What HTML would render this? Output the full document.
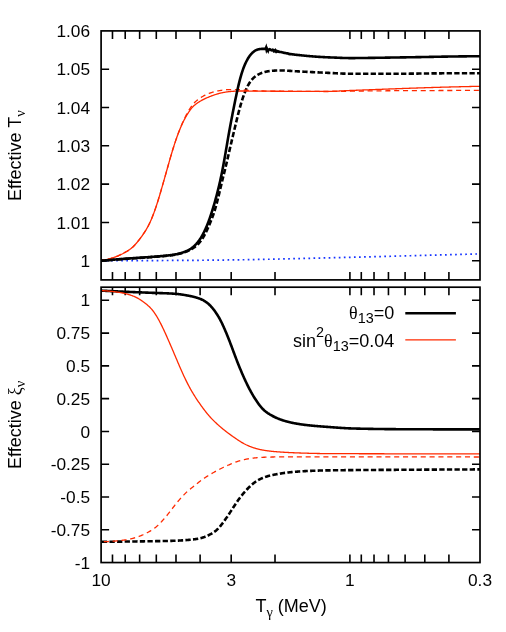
<!DOCTYPE html>
<html><head><meta charset="utf-8"><title>plot</title>
<style>
html,body{margin:0;padding:0;background:#fff;}
body{width:506px;height:632px;overflow:hidden;font-family:"Liberation Sans",sans-serif;}
svg{display:block;}
</style></head><body>
<svg width="506" height="632" viewBox="0 0 506 632">
<rect width="506" height="632" fill="#fff"/>
<defs><clipPath id="ct"><rect x="101.1" y="30.9" width="378.9" height="248.99999999999997"/></clipPath><clipPath id="cb"><rect x="101.1" y="287.2" width="378.9" height="275.34999999999997"/></clipPath></defs>
<path d="M112.48,30.9 v8.0 M112.48,279.9 v-8.0 M112.48,287.2 v8.0 M112.48,562.55 v-8.0 M125.21,30.9 v8.0 M125.21,279.9 v-8.0 M125.21,287.2 v8.0 M125.21,562.55 v-8.0 M139.64,30.9 v8.0 M139.64,279.9 v-8.0 M139.64,287.2 v8.0 M139.64,562.55 v-8.0 M156.30,30.9 v8.0 M156.30,279.9 v-8.0 M156.30,287.2 v8.0 M156.30,562.55 v-8.0 M176.00,30.9 v8.0 M176.00,279.9 v-8.0 M176.00,287.2 v8.0 M176.00,562.55 v-8.0 M200.11,30.9 v8.0 M200.11,279.9 v-8.0 M200.11,287.2 v8.0 M200.11,562.55 v-8.0 M231.19,30.9 v8.0 M231.19,279.9 v-8.0 M231.19,287.2 v8.0 M231.19,562.55 v-8.0 M275.01,30.9 v8.0 M275.01,279.9 v-8.0 M275.01,287.2 v8.0 M275.01,562.55 v-8.0 M349.91,30.9 v8.0 M349.91,279.9 v-8.0 M349.91,287.2 v8.0 M349.91,562.55 v-8.0 M361.29,30.9 v8.0 M361.29,279.9 v-8.0 M361.29,287.2 v8.0 M361.29,562.55 v-8.0 M374.02,30.9 v8.0 M374.02,279.9 v-8.0 M374.02,287.2 v8.0 M374.02,562.55 v-8.0 M388.45,30.9 v8.0 M388.45,279.9 v-8.0 M388.45,287.2 v8.0 M388.45,562.55 v-8.0 M405.10,30.9 v8.0 M405.10,279.9 v-8.0 M405.10,287.2 v8.0 M405.10,562.55 v-8.0 M424.80,30.9 v8.0 M424.80,279.9 v-8.0 M424.80,287.2 v8.0 M424.80,562.55 v-8.0 M448.91,30.9 v8.0 M448.91,279.9 v-8.0 M448.91,287.2 v8.0 M448.91,562.55 v-8.0 M101.1,260.75 h8.0 M480.0,260.75 h-8.0 M101.1,222.44 h8.0 M480.0,222.44 h-8.0 M101.1,184.13 h8.0 M480.0,184.13 h-8.0 M101.1,145.82 h8.0 M480.0,145.82 h-8.0 M101.1,107.52 h8.0 M480.0,107.52 h-8.0 M101.1,69.21 h8.0 M480.0,69.21 h-8.0 M101.1,529.77 h8.0 M480.0,529.77 h-8.0 M101.1,496.99 h8.0 M480.0,496.99 h-8.0 M101.1,464.21 h8.0 M480.0,464.21 h-8.0 M101.1,431.43 h8.0 M480.0,431.43 h-8.0 M101.1,398.65 h8.0 M480.0,398.65 h-8.0 M101.1,365.87 h8.0 M480.0,365.87 h-8.0 M101.1,333.09 h8.0 M480.0,333.09 h-8.0 M101.1,300.31 h8.0 M480.0,300.31 h-8.0" fill="none" stroke="#000" stroke-width="1.6"/>
<g fill="none" stroke-linejoin="round" clip-path="url(#ct)">
<path d="M101.10,260.75 L101.60,260.75 L102.10,260.75 L102.60,260.75 L103.10,260.75 L103.60,260.75 L104.10,260.75 L104.60,260.75 L105.10,260.75 L105.60,260.74 L106.10,260.74 L106.60,260.74 L107.10,260.74 L107.60,260.74 L108.10,260.74 L108.60,260.74 L109.10,260.74 L109.60,260.74 L110.10,260.74 L110.60,260.74 L111.10,260.73 L111.60,260.73 L112.10,260.73 L112.60,260.73 L113.10,260.73 L113.60,260.73 L114.10,260.73 L114.60,260.73 L115.10,260.73 L115.60,260.72 L116.10,260.72 L116.60,260.72 L117.10,260.72 L117.60,260.72 L118.10,260.72 L118.60,260.72 L119.10,260.71 L119.60,260.71 L120.10,260.71 L120.60,260.71 L121.10,260.71 L121.60,260.71 L122.10,260.71 L122.60,260.70 L123.10,260.70 L123.60,260.70 L124.10,260.70 L124.60,260.70 L125.10,260.70 L125.60,260.69 L126.10,260.69 L126.60,260.69 L127.10,260.69 L127.60,260.69 L128.10,260.69 L128.60,260.68 L129.10,260.68 L129.60,260.68 L130.10,260.68 L130.60,260.68 L131.10,260.67 L131.60,260.67 L132.10,260.67 L132.60,260.67 L133.10,260.67 L133.60,260.66 L134.10,260.66 L134.60,260.66 L135.10,260.66 L135.60,260.66 L136.10,260.65 L136.60,260.65 L137.10,260.65 L137.60,260.65 L138.10,260.65 L138.60,260.64 L139.10,260.64 L139.60,260.64 L140.10,260.64 L140.60,260.63 L141.10,260.63 L141.60,260.63 L142.10,260.63 L142.60,260.63 L143.10,260.62 L143.60,260.62 L144.10,260.62 L144.60,260.62 L145.10,260.61 L145.60,260.61 L146.10,260.61 L146.60,260.61 L147.10,260.60 L147.60,260.60 L148.10,260.60 L148.60,260.60 L149.10,260.59 L149.60,260.59 L150.10,260.59 L150.60,260.59 L151.10,260.58 L151.60,260.58 L152.10,260.58 L152.60,260.58 L153.10,260.57 L153.60,260.57 L154.10,260.57 L154.60,260.57 L155.10,260.56 L155.60,260.56 L156.10,260.56 L156.60,260.56 L157.10,260.55 L157.60,260.55 L158.10,260.55 L158.60,260.55 L159.10,260.54 L159.60,260.54 L160.10,260.54 L160.60,260.54 L161.10,260.53 L161.60,260.53 L162.10,260.53 L162.60,260.52 L163.10,260.52 L163.60,260.52 L164.10,260.52 L164.60,260.51 L165.10,260.51 L165.60,260.51 L166.10,260.51 L166.60,260.50 L167.10,260.50 L167.60,260.50 L168.10,260.49 L168.60,260.49 L169.10,260.49 L169.60,260.49 L170.10,260.48 L170.60,260.48 L171.10,260.48 L171.60,260.47 L172.10,260.47 L172.60,260.47 L173.10,260.47 L173.60,260.46 L174.10,260.46 L174.60,260.46 L175.10,260.46 L175.60,260.45 L176.10,260.45 L176.60,260.45 L177.10,260.44 L177.60,260.44 L178.10,260.44 L178.60,260.43 L179.10,260.43 L179.60,260.43 L180.10,260.43 L180.60,260.42 L181.10,260.42 L181.60,260.42 L182.10,260.41 L182.60,260.41 L183.10,260.41 L183.60,260.40 L184.10,260.40 L184.60,260.40 L185.10,260.39 L185.60,260.39 L186.10,260.39 L186.60,260.38 L187.10,260.38 L187.60,260.37 L188.10,260.37 L188.60,260.37 L189.10,260.36 L189.60,260.36 L190.10,260.36 L190.60,260.35 L191.10,260.35 L191.60,260.34 L192.10,260.34 L192.60,260.34 L193.10,260.33 L193.60,260.33 L194.10,260.32 L194.60,260.32 L195.10,260.32 L195.60,260.31 L196.10,260.31 L196.60,260.30 L197.10,260.30 L197.60,260.29 L198.10,260.29 L198.60,260.29 L199.10,260.28 L199.60,260.28 L200.10,260.27 L200.60,260.27 L201.10,260.26 L201.60,260.26 L202.10,260.25 L202.60,260.25 L203.10,260.25 L203.60,260.24 L204.10,260.24 L204.60,260.23 L205.10,260.23 L205.60,260.22 L206.10,260.22 L206.60,260.21 L207.10,260.21 L207.60,260.20 L208.10,260.20 L208.60,260.19 L209.10,260.19 L209.60,260.18 L210.10,260.18 L210.60,260.17 L211.10,260.17 L211.60,260.16 L212.10,260.16 L212.60,260.15 L213.10,260.15 L213.60,260.14 L214.10,260.14 L214.60,260.13 L215.10,260.12 L215.60,260.12 L216.10,260.11 L216.60,260.11 L217.10,260.10 L217.60,260.10 L218.10,260.09 L218.60,260.09 L219.10,260.08 L219.60,260.07 L220.10,260.07 L220.60,260.06 L221.10,260.06 L221.60,260.05 L222.10,260.05 L222.60,260.04 L223.10,260.03 L223.60,260.03 L224.10,260.02 L224.60,260.02 L225.10,260.01 L225.60,260.00 L226.10,260.00 L226.60,259.99 L227.10,259.99 L227.60,259.98 L228.10,259.97 L228.60,259.97 L229.10,259.96 L229.60,259.95 L230.10,259.95 L230.60,259.94 L231.10,259.93 L231.60,259.93 L232.10,259.92 L232.60,259.91 L233.10,259.91 L233.60,259.90 L234.10,259.89 L234.60,259.89 L235.10,259.88 L235.60,259.87 L236.10,259.86 L236.60,259.86 L237.10,259.85 L237.60,259.84 L238.10,259.83 L238.60,259.82 L239.10,259.82 L239.60,259.81 L240.10,259.80 L240.60,259.79 L241.10,259.78 L241.60,259.78 L242.10,259.77 L242.60,259.76 L243.10,259.75 L243.60,259.74 L244.10,259.73 L244.60,259.73 L245.10,259.72 L245.60,259.71 L246.10,259.70 L246.60,259.69 L247.10,259.68 L247.60,259.67 L248.10,259.66 L248.60,259.66 L249.10,259.65 L249.60,259.64 L250.10,259.63 L250.60,259.62 L251.10,259.61 L251.60,259.60 L252.10,259.59 L252.60,259.58 L253.10,259.57 L253.60,259.56 L254.10,259.55 L254.60,259.54 L255.10,259.53 L255.60,259.52 L256.10,259.51 L256.60,259.50 L257.10,259.49 L257.60,259.48 L258.10,259.47 L258.60,259.46 L259.10,259.45 L259.60,259.44 L260.10,259.43 L260.60,259.42 L261.10,259.41 L261.60,259.40 L262.10,259.39 L262.60,259.38 L263.10,259.37 L263.60,259.36 L264.10,259.35 L264.60,259.34 L265.10,259.33 L265.60,259.32 L266.10,259.31 L266.60,259.30 L267.10,259.29 L267.60,259.28 L268.10,259.27 L268.60,259.26 L269.10,259.24 L269.60,259.23 L270.10,259.22 L270.60,259.21 L271.10,259.20 L271.60,259.19 L272.10,259.18 L272.60,259.17 L273.10,259.16 L273.60,259.15 L274.10,259.13 L274.60,259.12 L275.10,259.11 L275.60,259.10 L276.10,259.09 L276.60,259.08 L277.10,259.07 L277.60,259.05 L278.10,259.04 L278.60,259.03 L279.10,259.02 L279.60,259.01 L280.10,259.00 L280.60,258.99 L281.10,258.97 L281.60,258.96 L282.10,258.95 L282.60,258.94 L283.10,258.93 L283.60,258.92 L284.10,258.90 L284.60,258.89 L285.10,258.88 L285.60,258.87 L286.10,258.86 L286.60,258.85 L287.10,258.83 L287.60,258.82 L288.10,258.81 L288.60,258.80 L289.10,258.79 L289.60,258.77 L290.10,258.76 L290.60,258.75 L291.10,258.74 L291.60,258.73 L292.10,258.71 L292.60,258.70 L293.10,258.69 L293.60,258.68 L294.10,258.67 L294.60,258.65 L295.10,258.64 L295.60,258.63 L296.10,258.62 L296.60,258.61 L297.10,258.59 L297.60,258.58 L298.10,258.57 L298.60,258.56 L299.10,258.54 L299.60,258.53 L300.10,258.52 L300.60,258.51 L301.10,258.50 L301.60,258.48 L302.10,258.47 L302.60,258.46 L303.10,258.45 L303.60,258.44 L304.10,258.42 L304.60,258.41 L305.10,258.40 L305.60,258.39 L306.10,258.37 L306.60,258.36 L307.10,258.35 L307.60,258.34 L308.10,258.33 L308.60,258.31 L309.10,258.30 L309.60,258.29 L310.10,258.28 L310.60,258.26 L311.10,258.25 L311.60,258.24 L312.10,258.23 L312.60,258.22 L313.10,258.20 L313.60,258.19 L314.10,258.18 L314.60,258.17 L315.10,258.15 L315.60,258.14 L316.10,258.13 L316.60,258.12 L317.10,258.11 L317.60,258.09 L318.10,258.08 L318.60,258.07 L319.10,258.06 L319.60,258.05 L320.10,258.03 L320.60,258.02 L321.10,258.01 L321.60,258.00 L322.10,257.99 L322.60,257.97 L323.10,257.96 L323.60,257.95 L324.10,257.94 L324.60,257.93 L325.10,257.92 L325.60,257.90 L326.10,257.89 L326.60,257.88 L327.10,257.87 L327.60,257.86 L328.10,257.84 L328.60,257.83 L329.10,257.82 L329.60,257.81 L330.10,257.80 L330.60,257.79 L331.10,257.77 L331.60,257.76 L332.10,257.75 L332.60,257.74 L333.10,257.73 L333.60,257.72 L334.10,257.70 L334.60,257.69 L335.10,257.68 L335.60,257.67 L336.10,257.66 L336.60,257.64 L337.10,257.63 L337.60,257.62 L338.10,257.61 L338.60,257.60 L339.10,257.58 L339.60,257.57 L340.10,257.56 L340.60,257.55 L341.10,257.54 L341.60,257.52 L342.10,257.51 L342.60,257.50 L343.10,257.49 L343.60,257.48 L344.10,257.46 L344.60,257.45 L345.10,257.44 L345.60,257.43 L346.10,257.41 L346.60,257.40 L347.10,257.39 L347.60,257.38 L348.10,257.36 L348.60,257.35 L349.10,257.34 L349.60,257.33 L350.10,257.32 L350.60,257.30 L351.10,257.29 L351.60,257.28 L352.10,257.27 L352.60,257.25 L353.10,257.24 L353.60,257.23 L354.10,257.22 L354.60,257.20 L355.10,257.19 L355.60,257.18 L356.10,257.16 L356.60,257.15 L357.10,257.14 L357.60,257.13 L358.10,257.11 L358.60,257.10 L359.10,257.09 L359.60,257.08 L360.10,257.06 L360.60,257.05 L361.10,257.04 L361.60,257.02 L362.10,257.01 L362.60,257.00 L363.10,256.99 L363.60,256.97 L364.10,256.96 L364.60,256.95 L365.10,256.94 L365.60,256.92 L366.10,256.91 L366.60,256.90 L367.10,256.88 L367.60,256.87 L368.10,256.86 L368.60,256.84 L369.10,256.83 L369.60,256.82 L370.10,256.81 L370.60,256.79 L371.10,256.78 L371.60,256.77 L372.10,256.75 L372.60,256.74 L373.10,256.73 L373.60,256.71 L374.10,256.70 L374.60,256.69 L375.10,256.68 L375.60,256.66 L376.10,256.65 L376.60,256.64 L377.10,256.62 L377.60,256.61 L378.10,256.60 L378.60,256.58 L379.10,256.57 L379.60,256.56 L380.10,256.54 L380.60,256.53 L381.10,256.52 L381.60,256.50 L382.10,256.49 L382.60,256.48 L383.10,256.46 L383.60,256.45 L384.10,256.44 L384.60,256.42 L385.10,256.41 L385.60,256.40 L386.10,256.38 L386.60,256.37 L387.10,256.36 L387.60,256.34 L388.10,256.33 L388.60,256.32 L389.10,256.31 L389.60,256.29 L390.10,256.28 L390.60,256.27 L391.10,256.25 L391.60,256.24 L392.10,256.23 L392.60,256.21 L393.10,256.20 L393.60,256.19 L394.10,256.17 L394.60,256.16 L395.10,256.15 L395.60,256.13 L396.10,256.12 L396.60,256.10 L397.10,256.09 L397.60,256.08 L398.10,256.06 L398.60,256.05 L399.10,256.04 L399.60,256.02 L400.10,256.01 L400.60,256.00 L401.10,255.98 L401.60,255.97 L402.10,255.96 L402.60,255.94 L403.10,255.93 L403.60,255.92 L404.10,255.90 L404.60,255.89 L405.10,255.88 L405.60,255.86 L406.10,255.85 L406.60,255.84 L407.10,255.82 L407.60,255.81 L408.10,255.80 L408.60,255.78 L409.10,255.77 L409.60,255.76 L410.10,255.74 L410.60,255.73 L411.10,255.72 L411.60,255.70 L412.10,255.69 L412.60,255.68 L413.10,255.66 L413.60,255.65 L414.10,255.64 L414.60,255.62 L415.10,255.61 L415.60,255.60 L416.10,255.58 L416.60,255.57 L417.10,255.56 L417.60,255.54 L418.10,255.53 L418.60,255.52 L419.10,255.50 L419.60,255.49 L420.10,255.48 L420.60,255.46 L421.10,255.45 L421.60,255.44 L422.10,255.42 L422.60,255.41 L423.10,255.40 L423.60,255.38 L424.10,255.37 L424.60,255.36 L425.10,255.34 L425.60,255.33 L426.10,255.32 L426.60,255.30 L427.10,255.29 L427.60,255.28 L428.10,255.26 L428.60,255.25 L429.10,255.24 L429.60,255.22 L430.10,255.21 L430.60,255.20 L431.10,255.18 L431.60,255.17 L432.10,255.16 L432.60,255.14 L433.10,255.13 L433.60,255.12 L434.10,255.10 L434.60,255.09 L435.10,255.08 L435.60,255.07 L436.10,255.05 L436.60,255.04 L437.10,255.03 L437.60,255.01 L438.10,255.00 L438.60,254.99 L439.10,254.97 L439.60,254.96 L440.10,254.95 L440.60,254.93 L441.10,254.92 L441.60,254.91 L442.10,254.90 L442.60,254.88 L443.10,254.87 L443.60,254.86 L444.10,254.84 L444.60,254.83 L445.10,254.82 L445.60,254.80 L446.10,254.79 L446.60,254.78 L447.10,254.76 L447.60,254.75 L448.10,254.74 L448.60,254.73 L449.10,254.71 L449.60,254.70 L450.10,254.69 L450.60,254.67 L451.10,254.66 L451.60,254.65 L452.10,254.63 L452.60,254.62 L453.10,254.61 L453.60,254.59 L454.10,254.58 L454.60,254.57 L455.10,254.55 L455.60,254.54 L456.10,254.53 L456.60,254.52 L457.10,254.50 L457.60,254.49 L458.10,254.48 L458.60,254.46 L459.10,254.45 L459.60,254.44 L460.10,254.42 L460.60,254.41 L461.10,254.40 L461.60,254.38 L462.10,254.37 L462.60,254.36 L463.10,254.34 L463.60,254.33 L464.10,254.32 L464.60,254.31 L465.10,254.29 L465.60,254.28 L466.10,254.27 L466.60,254.25 L467.10,254.24 L467.60,254.23 L468.10,254.21 L468.60,254.20 L469.10,254.19 L469.60,254.17 L470.10,254.16 L470.60,254.15 L471.10,254.13 L471.60,254.12 L472.10,254.11 L472.60,254.09 L473.10,254.08 L473.60,254.07 L474.10,254.06 L474.60,254.04 L475.10,254.03 L475.60,254.02 L476.10,254.00 L476.60,253.99 L477.10,253.98 L477.60,253.96 L478.10,253.95 L478.60,253.94 L479.10,253.92 L479.60,253.91 L480.00,253.90" stroke="#1433ff" stroke-width="1.7" stroke-dasharray="1.7 3.36" stroke-dashoffset="0.11"/>
<path d="M101.10,260.75 L101.60,260.71 L102.10,260.67 L102.60,260.63 L103.10,260.59 L103.60,260.55 L104.10,260.51 L104.60,260.47 L105.10,260.43 L105.60,260.39 L106.10,260.35 L106.60,260.31 L107.10,260.27 L107.60,260.23 L108.10,260.19 L108.60,260.15 L109.10,260.11 L109.60,260.07 L110.10,260.03 L110.60,259.99 L111.10,259.95 L111.60,259.91 L112.10,259.87 L112.60,259.83 L113.10,259.79 L113.60,259.76 L114.10,259.72 L114.60,259.68 L115.10,259.64 L115.60,259.60 L116.10,259.56 L116.60,259.53 L117.10,259.49 L117.60,259.45 L118.10,259.41 L118.60,259.37 L119.10,259.34 L119.60,259.30 L120.10,259.26 L120.60,259.22 L121.10,259.19 L121.60,259.15 L122.10,259.11 L122.60,259.08 L123.10,259.04 L123.60,259.00 L124.10,258.97 L124.60,258.93 L125.10,258.90 L125.60,258.86 L126.10,258.82 L126.60,258.79 L127.10,258.75 L127.60,258.72 L128.10,258.68 L128.60,258.65 L129.10,258.61 L129.60,258.58 L130.10,258.55 L130.60,258.51 L131.10,258.48 L131.60,258.44 L132.10,258.41 L132.60,258.38 L133.10,258.34 L133.60,258.31 L134.10,258.28 L134.60,258.25 L135.10,258.21 L135.60,258.18 L136.10,258.15 L136.60,258.11 L137.10,258.08 L137.60,258.05 L138.10,258.02 L138.60,257.98 L139.10,257.95 L139.60,257.92 L140.10,257.88 L140.60,257.85 L141.10,257.82 L141.60,257.78 L142.10,257.75 L142.60,257.72 L143.10,257.68 L143.60,257.65 L144.10,257.61 L144.60,257.58 L145.10,257.55 L145.60,257.51 L146.10,257.48 L146.60,257.44 L147.10,257.41 L147.60,257.37 L148.10,257.34 L148.60,257.30 L149.10,257.26 L149.60,257.23 L150.10,257.19 L150.60,257.16 L151.10,257.12 L151.60,257.08 L152.10,257.05 L152.60,257.01 L153.10,256.97 L153.60,256.94 L154.10,256.90 L154.60,256.86 L155.10,256.82 L155.60,256.79 L156.10,256.75 L156.60,256.71 L157.10,256.67 L157.60,256.63 L158.10,256.60 L158.60,256.56 L159.10,256.52 L159.60,256.47 L160.10,256.43 L160.60,256.39 L161.10,256.35 L161.60,256.31 L162.10,256.26 L162.60,256.22 L163.10,256.17 L163.60,256.12 L164.10,256.08 L164.60,256.03 L165.10,255.98 L165.60,255.93 L166.10,255.88 L166.60,255.83 L167.10,255.77 L167.60,255.72 L168.10,255.67 L168.60,255.61 L169.10,255.55 L169.60,255.49 L170.10,255.43 L170.60,255.37 L171.10,255.31 L171.60,255.24 L172.10,255.17 L172.60,255.10 L173.10,255.03 L173.60,254.95 L174.10,254.87 L174.60,254.79 L175.10,254.70 L175.60,254.61 L176.10,254.52 L176.60,254.42 L177.10,254.32 L177.60,254.21 L178.10,254.09 L178.60,253.97 L179.10,253.85 L179.60,253.72 L180.10,253.59 L180.60,253.45 L181.10,253.31 L181.60,253.16 L182.10,253.01 L182.60,252.85 L183.10,252.69 L183.60,252.53 L184.10,252.35 L184.60,252.18 L185.10,252.00 L185.60,251.81 L186.10,251.62 L186.60,251.42 L187.10,251.21 L187.60,251.00 L188.10,250.78 L188.60,250.56 L189.10,250.32 L189.60,250.08 L190.10,249.83 L190.60,249.57 L191.10,249.30 L191.60,249.02 L192.10,248.73 L192.60,248.43 L193.10,248.11 L193.60,247.78 L194.10,247.44 L194.60,247.08 L195.10,246.71 L195.60,246.31 L196.10,245.90 L196.60,245.47 L197.10,245.02 L197.60,244.55 L198.10,244.05 L198.60,243.53 L199.10,242.98 L199.60,242.41 L200.10,241.80 L200.60,241.17 L201.10,240.50 L201.60,239.80 L202.10,239.06 L202.60,238.29 L203.10,237.48 L203.60,236.64 L204.10,235.77 L204.60,234.86 L205.10,233.92 L205.60,232.95 L206.10,231.95 L206.60,230.92 L207.10,229.86 L207.60,228.78 L208.10,227.68 L208.60,226.55 L209.10,225.40 L209.60,224.23 L210.10,223.03 L210.60,221.81 L211.10,220.57 L211.60,219.29 L212.10,217.97 L212.60,216.62 L213.10,215.23 L213.60,213.79 L214.10,212.29 L214.60,210.73 L215.10,209.11 L215.60,207.43 L216.10,205.67 L216.60,203.85 L217.10,201.97 L217.60,200.02 L218.10,198.01 L218.60,195.96 L219.10,193.88 L219.60,191.77 L220.10,189.65 L220.60,187.52 L221.10,185.41 L221.60,183.32 L222.10,181.25 L222.60,179.19 L223.10,177.16 L223.60,175.14 L224.10,173.12 L224.60,171.11 L225.10,169.08 L225.60,167.03 L226.10,164.96 L226.60,162.87 L227.10,160.75 L227.60,158.61 L228.10,156.45 L228.60,154.28 L229.10,152.10 L229.60,149.93 L230.10,147.76 L230.60,145.61 L231.10,143.47 L231.60,141.35 L232.10,139.24 L232.60,137.14 L233.10,135.05 L233.60,132.96 L234.10,130.87 L234.60,128.78 L235.10,126.69 L235.60,124.61 L236.10,122.53 L236.60,120.46 L237.10,118.42 L237.60,116.40 L238.10,114.42 L238.60,112.47 L239.10,110.57 L239.60,108.72 L240.10,106.92 L240.60,105.17 L241.10,103.48 L241.60,101.83 L242.10,100.24 L242.60,98.70 L243.10,97.21 L243.60,95.77 L244.10,94.39 L244.60,93.06 L245.10,91.78 L245.60,90.56 L246.10,89.39 L246.60,88.28 L247.10,87.22 L247.60,86.21 L248.10,85.26 L248.60,84.36 L249.10,83.51 L249.60,82.71 L250.10,81.96 L250.60,81.25 L251.10,80.58 L251.60,79.96 L252.10,79.37 L252.60,78.82 L253.10,78.31 L253.60,77.82 L254.10,77.37 L254.60,76.94 L255.10,76.54 L255.60,76.16 L256.10,75.81 L256.60,75.48 L257.10,75.16 L257.60,74.86 L258.10,74.59 L258.60,74.32 L259.10,74.07 L259.60,73.84 L260.10,73.61 L260.60,73.40 L261.10,73.20 L261.60,73.02 L262.10,72.84 L262.60,72.67 L263.10,72.51 L263.60,72.35 L264.10,72.21 L264.60,72.07 L265.10,71.94 L265.60,71.82 L266.10,71.70 L266.60,71.59 L267.10,71.49 L267.60,71.39 L268.10,71.30 L268.60,71.22 L269.10,71.14 L269.60,71.07 L270.10,71.00 L270.60,70.94 L271.10,70.89 L271.60,70.84 L272.10,70.79 L272.60,70.75 L273.10,70.71 L273.60,70.68 L274.10,70.64 L274.60,70.61 L275.10,70.58 L275.60,70.56 L276.10,70.53 L276.60,70.51 L277.10,70.49 L277.60,70.48 L278.10,70.46 L278.60,70.45 L279.10,70.45 L279.60,70.44 L280.10,70.44 L280.60,70.44 L281.10,70.45 L281.60,70.46 L282.10,70.47 L282.60,70.48 L283.10,70.50 L283.60,70.52 L284.10,70.54 L284.60,70.56 L285.10,70.58 L285.60,70.61 L286.10,70.64 L286.60,70.66 L287.10,70.69 L287.60,70.72 L288.10,70.75 L288.60,70.79 L289.10,70.82 L289.60,70.85 L290.10,70.88 L290.60,70.91 L291.10,70.94 L291.60,70.97 L292.10,71.01 L292.60,71.04 L293.10,71.07 L293.60,71.10 L294.10,71.13 L294.60,71.16 L295.10,71.19 L295.60,71.22 L296.10,71.26 L296.60,71.29 L297.10,71.32 L297.60,71.35 L298.10,71.38 L298.60,71.41 L299.10,71.44 L299.60,71.47 L300.10,71.50 L300.60,71.53 L301.10,71.56 L301.60,71.58 L302.10,71.61 L302.60,71.64 L303.10,71.67 L303.60,71.69 L304.10,71.72 L304.60,71.74 L305.10,71.77 L305.60,71.80 L306.10,71.82 L306.60,71.85 L307.10,71.87 L307.60,71.90 L308.10,71.92 L308.60,71.95 L309.10,71.97 L309.60,72.00 L310.10,72.02 L310.60,72.05 L311.10,72.07 L311.60,72.09 L312.10,72.12 L312.60,72.14 L313.10,72.16 L313.60,72.19 L314.10,72.21 L314.60,72.23 L315.10,72.26 L315.60,72.28 L316.10,72.30 L316.60,72.33 L317.10,72.35 L317.60,72.37 L318.10,72.40 L318.60,72.42 L319.10,72.44 L319.60,72.46 L320.10,72.49 L320.60,72.51 L321.10,72.53 L321.60,72.55 L322.10,72.58 L322.60,72.60 L323.10,72.62 L323.60,72.64 L324.10,72.67 L324.60,72.69 L325.10,72.71 L325.60,72.74 L326.10,72.76 L326.60,72.78 L327.10,72.81 L327.60,72.83 L328.10,72.86 L328.60,72.88 L329.10,72.91 L329.60,72.93 L330.10,72.96 L330.60,72.98 L331.10,73.01 L331.60,73.04 L332.10,73.06 L332.60,73.09 L333.10,73.12 L333.60,73.15 L334.10,73.17 L334.60,73.20 L335.10,73.23 L335.60,73.25 L336.10,73.28 L336.60,73.31 L337.10,73.33 L337.60,73.36 L338.10,73.38 L338.60,73.41 L339.10,73.43 L339.60,73.46 L340.10,73.48 L340.60,73.50 L341.10,73.52 L341.60,73.54 L342.10,73.56 L342.60,73.58 L343.10,73.60 L343.60,73.62 L344.10,73.63 L344.60,73.65 L345.10,73.66 L345.60,73.68 L346.10,73.69 L346.60,73.70 L347.10,73.71 L347.60,73.72 L348.10,73.72 L348.60,73.73 L349.10,73.73 L349.60,73.74 L350.10,73.74 L350.60,73.74 L351.10,73.75 L351.60,73.75 L352.10,73.75 L352.60,73.75 L353.10,73.75 L353.60,73.75 L354.10,73.75 L354.60,73.75 L355.10,73.75 L355.60,73.75 L356.10,73.75 L356.60,73.75 L357.10,73.75 L357.60,73.75 L358.10,73.75 L358.60,73.75 L359.10,73.75 L359.60,73.75 L360.10,73.75 L360.60,73.75 L361.10,73.75 L361.60,73.75 L362.10,73.75 L362.60,73.75 L363.10,73.75 L363.60,73.75 L364.10,73.75 L364.60,73.75 L365.10,73.75 L365.60,73.75 L366.10,73.75 L366.60,73.75 L367.10,73.75 L367.60,73.75 L368.10,73.75 L368.60,73.75 L369.10,73.75 L369.60,73.75 L370.10,73.75 L370.60,73.75 L371.10,73.75 L371.60,73.75 L372.10,73.75 L372.60,73.75 L373.10,73.75 L373.60,73.75 L374.10,73.75 L374.60,73.75 L375.10,73.75 L375.60,73.75 L376.10,73.75 L376.60,73.75 L377.10,73.75 L377.60,73.75 L378.10,73.75 L378.60,73.75 L379.10,73.75 L379.60,73.75 L380.10,73.75 L380.60,73.75 L381.10,73.75 L381.60,73.75 L382.10,73.75 L382.60,73.75 L383.10,73.75 L383.60,73.75 L384.10,73.75 L384.60,73.75 L385.10,73.75 L385.60,73.75 L386.10,73.75 L386.60,73.75 L387.10,73.75 L387.60,73.75 L388.10,73.75 L388.60,73.75 L389.10,73.75 L389.60,73.75 L390.10,73.75 L390.60,73.75 L391.10,73.75 L391.60,73.75 L392.10,73.75 L392.60,73.75 L393.10,73.75 L393.60,73.75 L394.10,73.75 L394.60,73.75 L395.10,73.75 L395.60,73.75 L396.10,73.75 L396.60,73.75 L397.10,73.75 L397.60,73.74 L398.10,73.74 L398.60,73.74 L399.10,73.74 L399.60,73.74 L400.10,73.74 L400.60,73.74 L401.10,73.73 L401.60,73.73 L402.10,73.73 L402.60,73.73 L403.10,73.72 L403.60,73.72 L404.10,73.72 L404.60,73.71 L405.10,73.71 L405.60,73.71 L406.10,73.70 L406.60,73.70 L407.10,73.69 L407.60,73.69 L408.10,73.69 L408.60,73.68 L409.10,73.68 L409.60,73.67 L410.10,73.67 L410.60,73.66 L411.10,73.66 L411.60,73.65 L412.10,73.65 L412.60,73.64 L413.10,73.64 L413.60,73.63 L414.10,73.63 L414.60,73.62 L415.10,73.62 L415.60,73.61 L416.10,73.60 L416.60,73.60 L417.10,73.59 L417.60,73.59 L418.10,73.58 L418.60,73.57 L419.10,73.57 L419.60,73.56 L420.10,73.56 L420.60,73.55 L421.10,73.54 L421.60,73.54 L422.10,73.53 L422.60,73.53 L423.10,73.52 L423.60,73.51 L424.10,73.51 L424.60,73.50 L425.10,73.50 L425.60,73.49 L426.10,73.48 L426.60,73.48 L427.10,73.47 L427.60,73.47 L428.10,73.46 L428.60,73.45 L429.10,73.45 L429.60,73.44 L430.10,73.44 L430.60,73.43 L431.10,73.43 L431.60,73.42 L432.10,73.41 L432.60,73.41 L433.10,73.40 L433.60,73.40 L434.10,73.39 L434.60,73.39 L435.10,73.38 L435.60,73.38 L436.10,73.37 L436.60,73.37 L437.10,73.36 L437.60,73.36 L438.10,73.35 L438.60,73.35 L439.10,73.35 L439.60,73.34 L440.10,73.34 L440.60,73.33 L441.10,73.33 L441.60,73.33 L442.10,73.32 L442.60,73.32 L443.10,73.32 L443.60,73.31 L444.10,73.31 L444.60,73.31 L445.10,73.31 L445.60,73.30 L446.10,73.30 L446.60,73.30 L447.10,73.30 L447.60,73.29 L448.10,73.29 L448.60,73.29 L449.10,73.29 L449.60,73.28 L450.10,73.28 L450.60,73.28 L451.10,73.28 L451.60,73.28 L452.10,73.27 L452.60,73.27 L453.10,73.27 L453.60,73.27 L454.10,73.27 L454.60,73.26 L455.10,73.26 L455.60,73.26 L456.10,73.26 L456.60,73.26 L457.10,73.26 L457.60,73.25 L458.10,73.25 L458.60,73.25 L459.10,73.25 L459.60,73.25 L460.10,73.24 L460.60,73.24 L461.10,73.24 L461.60,73.24 L462.10,73.24 L462.60,73.24 L463.10,73.23 L463.60,73.23 L464.10,73.23 L464.60,73.23 L465.10,73.23 L465.60,73.23 L466.10,73.23 L466.60,73.22 L467.10,73.22 L467.60,73.22 L468.10,73.22 L468.60,73.22 L469.10,73.22 L469.60,73.22 L470.10,73.22 L470.60,73.21 L471.10,73.21 L471.60,73.21 L472.10,73.21 L472.60,73.21 L473.10,73.21 L473.60,73.21 L474.10,73.21 L474.60,73.21 L475.10,73.21 L475.60,73.20 L476.10,73.20 L476.60,73.20 L477.10,73.20 L477.60,73.20 L478.10,73.20 L478.60,73.20 L479.10,73.20 L479.60,73.20 L480.00,73.20" stroke="#000" stroke-width="2.6" stroke-dasharray="5.3 2.3" stroke-dashoffset="7.21"/>
<path d="M101.10,260.75 L101.60,260.66 L102.10,260.56 L102.60,260.47 L103.10,260.37 L103.60,260.27 L104.10,260.17 L104.60,260.07 L105.10,259.96 L105.60,259.85 L106.10,259.73 L106.60,259.61 L107.10,259.49 L107.60,259.36 L108.10,259.23 L108.60,259.10 L109.10,258.97 L109.60,258.83 L110.10,258.68 L110.60,258.54 L111.10,258.39 L111.60,258.23 L112.10,258.08 L112.60,257.92 L113.10,257.75 L113.60,257.58 L114.10,257.41 L114.60,257.23 L115.10,257.04 L115.60,256.85 L116.10,256.66 L116.60,256.46 L117.10,256.26 L117.60,256.05 L118.10,255.84 L118.60,255.62 L119.10,255.39 L119.60,255.17 L120.10,254.93 L120.60,254.70 L121.10,254.46 L121.60,254.21 L122.10,253.97 L122.60,253.71 L123.10,253.46 L123.60,253.19 L124.10,252.93 L124.60,252.66 L125.10,252.38 L125.60,252.10 L126.10,251.81 L126.60,251.52 L127.10,251.22 L127.60,250.91 L128.10,250.59 L128.60,250.26 L129.10,249.92 L129.60,249.57 L130.10,249.20 L130.60,248.83 L131.10,248.43 L131.60,248.03 L132.10,247.60 L132.60,247.16 L133.10,246.70 L133.60,246.22 L134.10,245.72 L134.60,245.20 L135.10,244.67 L135.60,244.11 L136.10,243.54 L136.60,242.96 L137.10,242.36 L137.60,241.75 L138.10,241.13 L138.60,240.50 L139.10,239.85 L139.60,239.20 L140.10,238.54 L140.60,237.88 L141.10,237.20 L141.60,236.52 L142.10,235.82 L142.60,235.11 L143.10,234.40 L143.60,233.66 L144.10,232.92 L144.60,232.16 L145.10,231.37 L145.60,230.57 L146.10,229.75 L146.60,228.91 L147.10,228.03 L147.60,227.13 L148.10,226.21 L148.60,225.25 L149.10,224.25 L149.60,223.23 L150.10,222.17 L150.60,221.07 L151.10,219.94 L151.60,218.77 L152.10,217.56 L152.60,216.32 L153.10,215.04 L153.60,213.72 L154.10,212.37 L154.60,210.98 L155.10,209.55 L155.60,208.10 L156.10,206.61 L156.60,205.09 L157.10,203.54 L157.60,201.97 L158.10,200.37 L158.60,198.75 L159.10,197.11 L159.60,195.44 L160.10,193.76 L160.60,192.07 L161.10,190.36 L161.60,188.63 L162.10,186.90 L162.60,185.16 L163.10,183.41 L163.60,181.65 L164.10,179.89 L164.60,178.12 L165.10,176.35 L165.60,174.58 L166.10,172.81 L166.60,171.03 L167.10,169.26 L167.60,167.48 L168.10,165.71 L168.60,163.94 L169.10,162.17 L169.60,160.42 L170.10,158.67 L170.60,156.94 L171.10,155.22 L171.60,153.52 L172.10,151.84 L172.60,150.18 L173.10,148.56 L173.60,146.95 L174.10,145.38 L174.60,143.84 L175.10,142.33 L175.60,140.84 L176.10,139.39 L176.60,137.96 L177.10,136.57 L177.60,135.20 L178.10,133.86 L178.60,132.55 L179.10,131.27 L179.60,130.02 L180.10,128.79 L180.60,127.59 L181.10,126.43 L181.60,125.29 L182.10,124.18 L182.60,123.10 L183.10,122.05 L183.60,121.03 L184.10,120.04 L184.60,119.08 L185.10,118.14 L185.60,117.23 L186.10,116.35 L186.60,115.49 L187.10,114.65 L187.60,113.83 L188.10,113.04 L188.60,112.27 L189.10,111.53 L189.60,110.81 L190.10,110.12 L190.60,109.45 L191.10,108.81 L191.60,108.20 L192.10,107.62 L192.60,107.07 L193.10,106.55 L193.60,106.05 L194.10,105.58 L194.60,105.13 L195.10,104.71 L195.60,104.30 L196.10,103.91 L196.60,103.54 L197.10,103.19 L197.60,102.84 L198.10,102.51 L198.60,102.19 L199.10,101.87 L199.60,101.57 L200.10,101.27 L200.60,100.98 L201.10,100.70 L201.60,100.42 L202.10,100.15 L202.60,99.89 L203.10,99.63 L203.60,99.38 L204.10,99.13 L204.60,98.88 L205.10,98.65 L205.60,98.41 L206.10,98.18 L206.60,97.96 L207.10,97.74 L207.60,97.52 L208.10,97.31 L208.60,97.10 L209.10,96.89 L209.60,96.69 L210.10,96.49 L210.60,96.30 L211.10,96.10 L211.60,95.91 L212.10,95.72 L212.60,95.54 L213.10,95.36 L213.60,95.18 L214.10,95.00 L214.60,94.83 L215.10,94.66 L215.60,94.50 L216.10,94.34 L216.60,94.18 L217.10,94.03 L217.60,93.89 L218.10,93.75 L218.60,93.61 L219.10,93.48 L219.60,93.35 L220.10,93.23 L220.60,93.11 L221.10,92.99 L221.60,92.88 L222.10,92.77 L222.60,92.67 L223.10,92.57 L223.60,92.47 L224.10,92.37 L224.60,92.28 L225.10,92.19 L225.60,92.11 L226.10,92.03 L226.60,91.95 L227.10,91.88 L227.60,91.81 L228.10,91.75 L228.60,91.69 L229.10,91.63 L229.60,91.58 L230.10,91.53 L230.60,91.48 L231.10,91.44 L231.60,91.40 L232.10,91.36 L232.60,91.33 L233.10,91.29 L233.60,91.26 L234.10,91.23 L234.60,91.20 L235.10,91.17 L235.60,91.15 L236.10,91.13 L236.60,91.10 L237.10,91.09 L237.60,91.07 L238.10,91.06 L238.60,91.04 L239.10,91.03 L239.60,91.03 L240.10,91.02 L240.60,91.02 L241.10,91.01 L241.60,91.01 L242.10,91.01 L242.60,91.01 L243.10,91.01 L243.60,91.01 L244.10,91.01 L244.60,91.01 L245.10,91.01 L245.60,91.02 L246.10,91.02 L246.60,91.02 L247.10,91.02 L247.60,91.03 L248.10,91.03 L248.60,91.03 L249.10,91.04 L249.60,91.04 L250.10,91.04 L250.60,91.05 L251.10,91.05 L251.60,91.05 L252.10,91.06 L252.60,91.06 L253.10,91.07 L253.60,91.07 L254.10,91.08 L254.60,91.08 L255.10,91.08 L255.60,91.09 L256.10,91.09 L256.60,91.10 L257.10,91.10 L257.60,91.11 L258.10,91.11 L258.60,91.12 L259.10,91.12 L259.60,91.13 L260.10,91.13 L260.60,91.14 L261.10,91.14 L261.60,91.15 L262.10,91.15 L262.60,91.16 L263.10,91.16 L263.60,91.16 L264.10,91.17 L264.60,91.17 L265.10,91.18 L265.60,91.18 L266.10,91.19 L266.60,91.19 L267.10,91.20 L267.60,91.20 L268.10,91.20 L268.60,91.21 L269.10,91.21 L269.60,91.22 L270.10,91.22 L270.60,91.22 L271.10,91.23 L271.60,91.23 L272.10,91.23 L272.60,91.24 L273.10,91.24 L273.60,91.24 L274.10,91.24 L274.60,91.25 L275.10,91.25 L275.60,91.25 L276.10,91.25 L276.60,91.26 L277.10,91.26 L277.60,91.26 L278.10,91.26 L278.60,91.27 L279.10,91.27 L279.60,91.27 L280.10,91.27 L280.60,91.27 L281.10,91.28 L281.60,91.28 L282.10,91.28 L282.60,91.28 L283.10,91.28 L283.60,91.29 L284.10,91.29 L284.60,91.29 L285.10,91.29 L285.60,91.30 L286.10,91.30 L286.60,91.30 L287.10,91.30 L287.60,91.30 L288.10,91.31 L288.60,91.31 L289.10,91.31 L289.60,91.31 L290.10,91.31 L290.60,91.32 L291.10,91.32 L291.60,91.32 L292.10,91.32 L292.60,91.32 L293.10,91.33 L293.60,91.33 L294.10,91.33 L294.60,91.33 L295.10,91.33 L295.60,91.33 L296.10,91.34 L296.60,91.34 L297.10,91.34 L297.60,91.34 L298.10,91.34 L298.60,91.35 L299.10,91.35 L299.60,91.35 L300.10,91.35 L300.60,91.35 L301.10,91.35 L301.60,91.36 L302.10,91.36 L302.60,91.36 L303.10,91.36 L303.60,91.36 L304.10,91.36 L304.60,91.36 L305.10,91.37 L305.60,91.37 L306.10,91.37 L306.60,91.37 L307.10,91.37 L307.60,91.37 L308.10,91.37 L308.60,91.38 L309.10,91.38 L309.60,91.38 L310.10,91.38 L310.60,91.38 L311.10,91.38 L311.60,91.38 L312.10,91.38 L312.60,91.39 L313.10,91.39 L313.60,91.39 L314.10,91.39 L314.60,91.39 L315.10,91.39 L315.60,91.39 L316.10,91.39 L316.60,91.39 L317.10,91.39 L317.60,91.39 L318.10,91.39 L318.60,91.39 L319.10,91.40 L319.60,91.40 L320.10,91.40 L320.60,91.40 L321.10,91.40 L321.60,91.40 L322.10,91.40 L322.60,91.40 L323.10,91.40 L323.60,91.40 L324.10,91.40 L324.60,91.40 L325.10,91.39 L325.60,91.39 L326.10,91.39 L326.60,91.39 L327.10,91.38 L327.60,91.38 L328.10,91.37 L328.60,91.37 L329.10,91.36 L329.60,91.35 L330.10,91.34 L330.60,91.33 L331.10,91.31 L331.60,91.30 L332.10,91.29 L332.60,91.27 L333.10,91.26 L333.60,91.24 L334.10,91.22 L334.60,91.20 L335.10,91.18 L335.60,91.16 L336.10,91.14 L336.60,91.12 L337.10,91.10 L337.60,91.08 L338.10,91.05 L338.60,91.03 L339.10,91.01 L339.60,90.98 L340.10,90.96 L340.60,90.94 L341.10,90.91 L341.60,90.89 L342.10,90.86 L342.60,90.84 L343.10,90.81 L343.60,90.79 L344.10,90.77 L344.60,90.74 L345.10,90.72 L345.60,90.70 L346.10,90.67 L346.60,90.65 L347.10,90.63 L347.60,90.60 L348.10,90.58 L348.60,90.56 L349.10,90.54 L349.60,90.52 L350.10,90.50 L350.60,90.48 L351.10,90.46 L351.60,90.44 L352.10,90.42 L352.60,90.40 L353.10,90.38 L353.60,90.36 L354.10,90.34 L354.60,90.32 L355.10,90.30 L355.60,90.29 L356.10,90.27 L356.60,90.25 L357.10,90.23 L357.60,90.21 L358.10,90.19 L358.60,90.17 L359.10,90.15 L359.60,90.13 L360.10,90.11 L360.60,90.09 L361.10,90.07 L361.60,90.05 L362.10,90.03 L362.60,90.01 L363.10,89.99 L363.60,89.98 L364.10,89.96 L364.60,89.94 L365.10,89.92 L365.60,89.90 L366.10,89.88 L366.60,89.86 L367.10,89.84 L367.60,89.82 L368.10,89.80 L368.60,89.78 L369.10,89.76 L369.60,89.74 L370.10,89.72 L370.60,89.70 L371.10,89.68 L371.60,89.66 L372.10,89.65 L372.60,89.63 L373.10,89.61 L373.60,89.59 L374.10,89.57 L374.60,89.55 L375.10,89.53 L375.60,89.51 L376.10,89.49 L376.60,89.47 L377.10,89.45 L377.60,89.43 L378.10,89.42 L378.60,89.40 L379.10,89.38 L379.60,89.36 L380.10,89.34 L380.60,89.32 L381.10,89.30 L381.60,89.28 L382.10,89.27 L382.60,89.25 L383.10,89.23 L383.60,89.21 L384.10,89.19 L384.60,89.17 L385.10,89.15 L385.60,89.13 L386.10,89.12 L386.60,89.10 L387.10,89.08 L387.60,89.06 L388.10,89.04 L388.60,89.02 L389.10,89.00 L389.60,88.99 L390.10,88.97 L390.60,88.95 L391.10,88.93 L391.60,88.91 L392.10,88.89 L392.60,88.87 L393.10,88.86 L393.60,88.84 L394.10,88.82 L394.60,88.80 L395.10,88.78 L395.60,88.76 L396.10,88.74 L396.60,88.73 L397.10,88.71 L397.60,88.69 L398.10,88.67 L398.60,88.65 L399.10,88.63 L399.60,88.62 L400.10,88.60 L400.60,88.58 L401.10,88.56 L401.60,88.54 L402.10,88.52 L402.60,88.51 L403.10,88.49 L403.60,88.47 L404.10,88.45 L404.60,88.43 L405.10,88.42 L405.60,88.40 L406.10,88.38 L406.60,88.36 L407.10,88.34 L407.60,88.33 L408.10,88.31 L408.60,88.29 L409.10,88.27 L409.60,88.26 L410.10,88.24 L410.60,88.22 L411.10,88.20 L411.60,88.19 L412.10,88.17 L412.60,88.15 L413.10,88.13 L413.60,88.12 L414.10,88.10 L414.60,88.08 L415.10,88.07 L415.60,88.05 L416.10,88.03 L416.60,88.01 L417.10,88.00 L417.60,87.98 L418.10,87.96 L418.60,87.95 L419.10,87.93 L419.60,87.91 L420.10,87.90 L420.60,87.88 L421.10,87.86 L421.60,87.85 L422.10,87.83 L422.60,87.81 L423.10,87.80 L423.60,87.78 L424.10,87.77 L424.60,87.75 L425.10,87.73 L425.60,87.72 L426.10,87.70 L426.60,87.68 L427.10,87.67 L427.60,87.65 L428.10,87.64 L428.60,87.62 L429.10,87.60 L429.60,87.59 L430.10,87.57 L430.60,87.56 L431.10,87.54 L431.60,87.52 L432.10,87.51 L432.60,87.49 L433.10,87.48 L433.60,87.46 L434.10,87.45 L434.60,87.43 L435.10,87.42 L435.60,87.40 L436.10,87.39 L436.60,87.37 L437.10,87.36 L437.60,87.34 L438.10,87.33 L438.60,87.31 L439.10,87.30 L439.60,87.28 L440.10,87.27 L440.60,87.25 L441.10,87.24 L441.60,87.22 L442.10,87.21 L442.60,87.19 L443.10,87.18 L443.60,87.17 L444.10,87.15 L444.60,87.14 L445.10,87.13 L445.60,87.11 L446.10,87.10 L446.60,87.08 L447.10,87.07 L447.60,87.06 L448.10,87.04 L448.60,87.03 L449.10,87.02 L449.60,87.00 L450.10,86.99 L450.60,86.98 L451.10,86.97 L451.60,86.95 L452.10,86.94 L452.60,86.93 L453.10,86.91 L453.60,86.90 L454.10,86.89 L454.60,86.88 L455.10,86.86 L455.60,86.85 L456.10,86.84 L456.60,86.83 L457.10,86.81 L457.60,86.80 L458.10,86.79 L458.60,86.78 L459.10,86.76 L459.60,86.75 L460.10,86.74 L460.60,86.73 L461.10,86.71 L461.60,86.70 L462.10,86.69 L462.60,86.68 L463.10,86.67 L463.60,86.66 L464.10,86.64 L464.60,86.63 L465.10,86.62 L465.60,86.61 L466.10,86.60 L466.60,86.59 L467.10,86.57 L467.60,86.56 L468.10,86.55 L468.60,86.54 L469.10,86.53 L469.60,86.52 L470.10,86.51 L470.60,86.50 L471.10,86.48 L471.60,86.47 L472.10,86.46 L472.60,86.45 L473.10,86.44 L473.60,86.43 L474.10,86.42 L474.60,86.41 L475.10,86.40 L475.60,86.39 L476.10,86.38 L476.60,86.37 L477.10,86.36 L477.60,86.35 L478.10,86.34 L478.60,86.33 L479.10,86.32 L479.60,86.31 L480.00,86.30" stroke="#ff2a00" stroke-width="1.3"/>
<path d="M101.10,260.75 L101.60,260.66 L102.10,260.56 L102.60,260.47 L103.10,260.37 L103.60,260.27 L104.10,260.17 L104.60,260.07 L105.10,259.96 L105.60,259.85 L106.10,259.73 L106.60,259.61 L107.10,259.49 L107.60,259.36 L108.10,259.23 L108.60,259.10 L109.10,258.97 L109.60,258.83 L110.10,258.68 L110.60,258.54 L111.10,258.39 L111.60,258.23 L112.10,258.08 L112.60,257.92 L113.10,257.75 L113.60,257.58 L114.10,257.41 L114.60,257.23 L115.10,257.04 L115.60,256.85 L116.10,256.66 L116.60,256.46 L117.10,256.26 L117.60,256.05 L118.10,255.84 L118.60,255.62 L119.10,255.39 L119.60,255.17 L120.10,254.93 L120.60,254.70 L121.10,254.46 L121.60,254.21 L122.10,253.97 L122.60,253.71 L123.10,253.46 L123.60,253.19 L124.10,252.93 L124.60,252.66 L125.10,252.38 L125.60,252.10 L126.10,251.81 L126.60,251.52 L127.10,251.22 L127.60,250.91 L128.10,250.59 L128.60,250.26 L129.10,249.92 L129.60,249.57 L130.10,249.20 L130.60,248.83 L131.10,248.43 L131.60,248.03 L132.10,247.60 L132.60,247.16 L133.10,246.70 L133.60,246.22 L134.10,245.72 L134.60,245.20 L135.10,244.67 L135.60,244.11 L136.10,243.54 L136.60,242.96 L137.10,242.36 L137.60,241.75 L138.10,241.13 L138.60,240.50 L139.10,239.85 L139.60,239.20 L140.10,238.54 L140.60,237.88 L141.10,237.20 L141.60,236.52 L142.10,235.82 L142.60,235.11 L143.10,234.40 L143.60,233.66 L144.10,232.92 L144.60,232.16 L145.10,231.37 L145.60,230.57 L146.10,229.75 L146.60,228.91 L147.10,228.03 L147.60,227.13 L148.10,226.21 L148.60,225.25 L149.10,224.25 L149.60,223.23 L150.10,222.17 L150.60,221.07 L151.10,219.94 L151.60,218.77 L152.10,217.56 L152.60,216.32 L153.10,215.04 L153.60,213.72 L154.10,212.37 L154.60,210.98 L155.10,209.55 L155.60,208.10 L156.10,206.61 L156.60,205.09 L157.10,203.54 L157.60,201.97 L158.10,200.37 L158.60,198.75 L159.10,197.11 L159.60,195.44 L160.10,193.76 L160.60,192.07 L161.10,190.36 L161.60,188.63 L162.10,186.90 L162.60,185.16 L163.10,183.41 L163.60,181.65 L164.10,179.89 L164.60,178.12 L165.10,176.35 L165.60,174.58 L166.10,172.81 L166.60,171.03 L167.10,169.26 L167.60,167.48 L168.10,165.71 L168.60,163.94 L169.10,162.17 L169.60,160.42 L170.10,158.67 L170.60,156.94 L171.10,155.22 L171.60,153.52 L172.10,151.84 L172.60,150.19 L173.10,148.56 L173.60,146.96 L174.10,145.39 L174.60,143.85 L175.10,142.33 L175.60,140.85 L176.10,139.39 L176.60,137.95 L177.10,136.55 L177.60,135.16 L178.10,133.81 L178.60,132.47 L179.10,131.16 L179.60,129.87 L180.10,128.60 L180.60,127.36 L181.10,126.14 L181.60,124.95 L182.10,123.78 L182.60,122.63 L183.10,121.51 L183.60,120.41 L184.10,119.34 L184.60,118.29 L185.10,117.27 L185.60,116.27 L186.10,115.29 L186.60,114.33 L187.10,113.40 L187.60,112.49 L188.10,111.60 L188.60,110.74 L189.10,109.90 L189.60,109.09 L190.10,108.30 L190.60,107.54 L191.10,106.82 L191.60,106.12 L192.10,105.45 L192.60,104.82 L193.10,104.21 L193.60,103.64 L194.10,103.09 L194.60,102.56 L195.10,102.07 L195.60,101.59 L196.10,101.13 L196.60,100.69 L197.10,100.27 L197.60,99.87 L198.10,99.48 L198.60,99.11 L199.10,98.75 L199.60,98.40 L200.10,98.06 L200.60,97.73 L201.10,97.41 L201.60,97.10 L202.10,96.80 L202.60,96.51 L203.10,96.22 L203.60,95.94 L204.10,95.68 L204.60,95.41 L205.10,95.16 L205.60,94.91 L206.10,94.68 L206.60,94.45 L207.10,94.22 L207.60,94.01 L208.10,93.80 L208.60,93.60 L209.10,93.41 L209.60,93.22 L210.10,93.04 L210.60,92.87 L211.10,92.70 L211.60,92.54 L212.10,92.38 L212.60,92.23 L213.10,92.09 L213.60,91.94 L214.10,91.81 L214.60,91.67 L215.10,91.55 L215.60,91.42 L216.10,91.31 L216.60,91.19 L217.10,91.08 L217.60,90.98 L218.10,90.88 L218.60,90.78 L219.10,90.69 L219.60,90.61 L220.10,90.52 L220.60,90.44 L221.10,90.37 L221.60,90.29 L222.10,90.22 L222.60,90.15 L223.10,90.09 L223.60,90.03 L224.10,89.97 L224.60,89.91 L225.10,89.86 L225.60,89.81 L226.10,89.76 L226.60,89.72 L227.10,89.68 L227.60,89.65 L228.10,89.62 L228.60,89.60 L229.10,89.58 L229.60,89.56 L230.10,89.55 L230.60,89.54 L231.10,89.54 L231.60,89.54 L232.10,89.54 L232.60,89.54 L233.10,89.55 L233.60,89.56 L234.10,89.57 L234.60,89.58 L235.10,89.59 L235.60,89.61 L236.10,89.62 L236.60,89.64 L237.10,89.65 L237.60,89.67 L238.10,89.69 L238.60,89.71 L239.10,89.73 L239.60,89.75 L240.10,89.78 L240.60,89.81 L241.10,89.83 L241.60,89.86 L242.10,89.90 L242.60,89.93 L243.10,89.96 L243.60,90.00 L244.10,90.04 L244.60,90.08 L245.10,90.12 L245.60,90.16 L246.10,90.20 L246.60,90.24 L247.10,90.28 L247.60,90.32 L248.10,90.35 L248.60,90.39 L249.10,90.42 L249.60,90.46 L250.10,90.49 L250.60,90.52 L251.10,90.55 L251.60,90.57 L252.10,90.60 L252.60,90.63 L253.10,90.65 L253.60,90.68 L254.10,90.70 L254.60,90.73 L255.10,90.75 L255.60,90.77 L256.10,90.79 L256.60,90.81 L257.10,90.83 L257.60,90.85 L258.10,90.87 L258.60,90.89 L259.10,90.90 L259.60,90.92 L260.10,90.93 L260.60,90.95 L261.10,90.96 L261.60,90.97 L262.10,90.98 L262.60,90.99 L263.10,91.00 L263.60,91.01 L264.10,91.02 L264.60,91.03 L265.10,91.03 L265.60,91.04 L266.10,91.05 L266.60,91.05 L267.10,91.06 L267.60,91.07 L268.10,91.07 L268.60,91.08 L269.10,91.08 L269.60,91.09 L270.10,91.09 L270.60,91.10 L271.10,91.10 L271.60,91.11 L272.10,91.11 L272.60,91.12 L273.10,91.12 L273.60,91.13 L274.10,91.13 L274.60,91.13 L275.10,91.14 L275.60,91.14 L276.10,91.15 L276.60,91.15 L277.10,91.15 L277.60,91.16 L278.10,91.16 L278.60,91.17 L279.10,91.17 L279.60,91.17 L280.10,91.18 L280.60,91.18 L281.10,91.18 L281.60,91.19 L282.10,91.19 L282.60,91.19 L283.10,91.19 L283.60,91.20 L284.10,91.20 L284.60,91.20 L285.10,91.21 L285.60,91.21 L286.10,91.21 L286.60,91.22 L287.10,91.22 L287.60,91.22 L288.10,91.22 L288.60,91.23 L289.10,91.23 L289.60,91.23 L290.10,91.24 L290.60,91.24 L291.10,91.24 L291.60,91.24 L292.10,91.25 L292.60,91.25 L293.10,91.25 L293.60,91.26 L294.10,91.26 L294.60,91.26 L295.10,91.27 L295.60,91.27 L296.10,91.27 L296.60,91.28 L297.10,91.28 L297.60,91.28 L298.10,91.29 L298.60,91.29 L299.10,91.29 L299.60,91.30 L300.10,91.30 L300.60,91.31 L301.10,91.31 L301.60,91.31 L302.10,91.32 L302.60,91.32 L303.10,91.33 L303.60,91.33 L304.10,91.34 L304.60,91.34 L305.10,91.35 L305.60,91.35 L306.10,91.36 L306.60,91.36 L307.10,91.37 L307.60,91.37 L308.10,91.38 L308.60,91.38 L309.10,91.39 L309.60,91.39 L310.10,91.40 L310.60,91.40 L311.10,91.41 L311.60,91.41 L312.10,91.42 L312.60,91.42 L313.10,91.43 L313.60,91.43 L314.10,91.43 L314.60,91.44 L315.10,91.44 L315.60,91.45 L316.10,91.45 L316.60,91.46 L317.10,91.46 L317.60,91.46 L318.10,91.47 L318.60,91.47 L319.10,91.47 L319.60,91.48 L320.10,91.48 L320.60,91.48 L321.10,91.48 L321.60,91.49 L322.10,91.49 L322.60,91.49 L323.10,91.49 L323.60,91.49 L324.10,91.49 L324.60,91.50 L325.10,91.50 L325.60,91.50 L326.10,91.50 L326.60,91.49 L327.10,91.49 L327.60,91.49 L328.10,91.49 L328.60,91.49 L329.10,91.49 L329.60,91.48 L330.10,91.48 L330.60,91.48 L331.10,91.47 L331.60,91.47 L332.10,91.46 L332.60,91.46 L333.10,91.45 L333.60,91.45 L334.10,91.44 L334.60,91.43 L335.10,91.43 L335.60,91.42 L336.10,91.41 L336.60,91.41 L337.10,91.40 L337.60,91.39 L338.10,91.38 L338.60,91.38 L339.10,91.37 L339.60,91.36 L340.10,91.35 L340.60,91.34 L341.10,91.34 L341.60,91.33 L342.10,91.32 L342.60,91.31 L343.10,91.30 L343.60,91.30 L344.10,91.29 L344.60,91.28 L345.10,91.27 L345.60,91.26 L346.10,91.26 L346.60,91.25 L347.10,91.24 L347.60,91.23 L348.10,91.23 L348.60,91.22 L349.10,91.21 L349.60,91.21 L350.10,91.20 L350.60,91.19 L351.10,91.19 L351.60,91.18 L352.10,91.17 L352.60,91.17 L353.10,91.16 L353.60,91.15 L354.10,91.15 L354.60,91.14 L355.10,91.13 L355.60,91.13 L356.10,91.12 L356.60,91.11 L357.10,91.11 L357.60,91.10 L358.10,91.09 L358.60,91.08 L359.10,91.08 L359.60,91.07 L360.10,91.06 L360.60,91.06 L361.10,91.05 L361.60,91.04 L362.10,91.04 L362.60,91.03 L363.10,91.02 L363.60,91.02 L364.10,91.01 L364.60,91.00 L365.10,90.99 L365.60,90.99 L366.10,90.98 L366.60,90.97 L367.10,90.97 L367.60,90.96 L368.10,90.95 L368.60,90.95 L369.10,90.94 L369.60,90.94 L370.10,90.93 L370.60,90.92 L371.10,90.92 L371.60,90.91 L372.10,90.90 L372.60,90.90 L373.10,90.89 L373.60,90.89 L374.10,90.88 L374.60,90.88 L375.10,90.87 L375.60,90.86 L376.10,90.86 L376.60,90.85 L377.10,90.85 L377.60,90.84 L378.10,90.84 L378.60,90.83 L379.10,90.83 L379.60,90.82 L380.10,90.82 L380.60,90.82 L381.10,90.81 L381.60,90.81 L382.10,90.80 L382.60,90.80 L383.10,90.80 L383.60,90.79 L384.10,90.79 L384.60,90.79 L385.10,90.78 L385.60,90.78 L386.10,90.78 L386.60,90.77 L387.10,90.77 L387.60,90.77 L388.10,90.76 L388.60,90.76 L389.10,90.76 L389.60,90.75 L390.10,90.75 L390.60,90.75 L391.10,90.74 L391.60,90.74 L392.10,90.74 L392.60,90.73 L393.10,90.73 L393.60,90.73 L394.10,90.72 L394.60,90.72 L395.10,90.72 L395.60,90.72 L396.10,90.71 L396.60,90.71 L397.10,90.71 L397.60,90.70 L398.10,90.70 L398.60,90.70 L399.10,90.70 L399.60,90.69 L400.10,90.69 L400.60,90.69 L401.10,90.69 L401.60,90.68 L402.10,90.68 L402.60,90.68 L403.10,90.67 L403.60,90.67 L404.10,90.67 L404.60,90.67 L405.10,90.66 L405.60,90.66 L406.10,90.66 L406.60,90.66 L407.10,90.65 L407.60,90.65 L408.10,90.65 L408.60,90.65 L409.10,90.64 L409.60,90.64 L410.10,90.64 L410.60,90.64 L411.10,90.64 L411.60,90.63 L412.10,90.63 L412.60,90.63 L413.10,90.63 L413.60,90.62 L414.10,90.62 L414.60,90.62 L415.10,90.62 L415.60,90.62 L416.10,90.61 L416.60,90.61 L417.10,90.61 L417.60,90.61 L418.10,90.60 L418.60,90.60 L419.10,90.60 L419.60,90.60 L420.10,90.60 L420.60,90.59 L421.10,90.59 L421.60,90.59 L422.10,90.59 L422.60,90.59 L423.10,90.58 L423.60,90.58 L424.10,90.58 L424.60,90.58 L425.10,90.58 L425.60,90.57 L426.10,90.57 L426.60,90.57 L427.10,90.57 L427.60,90.57 L428.10,90.56 L428.60,90.56 L429.10,90.56 L429.60,90.56 L430.10,90.56 L430.60,90.56 L431.10,90.55 L431.60,90.55 L432.10,90.55 L432.60,90.55 L433.10,90.55 L433.60,90.54 L434.10,90.54 L434.60,90.54 L435.10,90.54 L435.60,90.54 L436.10,90.54 L436.60,90.53 L437.10,90.53 L437.60,90.53 L438.10,90.53 L438.60,90.53 L439.10,90.52 L439.60,90.52 L440.10,90.52 L440.60,90.52 L441.10,90.52 L441.60,90.52 L442.10,90.51 L442.60,90.51 L443.10,90.51 L443.60,90.51 L444.10,90.51 L444.60,90.50 L445.10,90.50 L445.60,90.50 L446.10,90.50 L446.60,90.50 L447.10,90.50 L447.60,90.49 L448.10,90.49 L448.60,90.49 L449.10,90.49 L449.60,90.49 L450.10,90.49 L450.60,90.48 L451.10,90.48 L451.60,90.48 L452.10,90.48 L452.60,90.48 L453.10,90.48 L453.60,90.47 L454.10,90.47 L454.60,90.47 L455.10,90.47 L455.60,90.47 L456.10,90.47 L456.60,90.46 L457.10,90.46 L457.60,90.46 L458.10,90.46 L458.60,90.46 L459.10,90.46 L459.60,90.46 L460.10,90.45 L460.60,90.45 L461.10,90.45 L461.60,90.45 L462.10,90.45 L462.60,90.45 L463.10,90.44 L463.60,90.44 L464.10,90.44 L464.60,90.44 L465.10,90.44 L465.60,90.44 L466.10,90.44 L466.60,90.43 L467.10,90.43 L467.60,90.43 L468.10,90.43 L468.60,90.43 L469.10,90.43 L469.60,90.43 L470.10,90.42 L470.60,90.42 L471.10,90.42 L471.60,90.42 L472.10,90.42 L472.60,90.42 L473.10,90.42 L473.60,90.42 L474.10,90.41 L474.60,90.41 L475.10,90.41 L475.60,90.41 L476.10,90.41 L476.60,90.41 L477.10,90.41 L477.60,90.41 L478.10,90.40 L478.60,90.40 L479.10,90.40 L479.60,90.40 L480.00,90.40" stroke="#ff2a00" stroke-width="1.3" stroke-dasharray="5.1 3.75" stroke-dashoffset="1.76"/>
<path d="M101.10,260.75 L101.60,260.71 L102.10,260.66 L102.60,260.62 L103.10,260.57 L103.60,260.53 L104.10,260.48 L104.60,260.44 L105.10,260.39 L105.60,260.35 L106.10,260.31 L106.60,260.26 L107.10,260.22 L107.60,260.18 L108.10,260.13 L108.60,260.09 L109.10,260.05 L109.60,260.00 L110.10,259.96 L110.60,259.92 L111.10,259.87 L111.60,259.83 L112.10,259.79 L112.60,259.75 L113.10,259.71 L113.60,259.66 L114.10,259.62 L114.60,259.58 L115.10,259.54 L115.60,259.50 L116.10,259.46 L116.60,259.42 L117.10,259.38 L117.60,259.33 L118.10,259.29 L118.60,259.25 L119.10,259.21 L119.60,259.17 L120.10,259.13 L120.60,259.09 L121.10,259.05 L121.60,259.02 L122.10,258.98 L122.60,258.94 L123.10,258.90 L123.60,258.86 L124.10,258.82 L124.60,258.78 L125.10,258.75 L125.60,258.71 L126.10,258.67 L126.60,258.63 L127.10,258.60 L127.60,258.56 L128.10,258.52 L128.60,258.49 L129.10,258.45 L129.60,258.42 L130.10,258.38 L130.60,258.35 L131.10,258.31 L131.60,258.28 L132.10,258.24 L132.60,258.21 L133.10,258.17 L133.60,258.14 L134.10,258.11 L134.60,258.07 L135.10,258.04 L135.60,258.00 L136.10,257.97 L136.60,257.94 L137.10,257.90 L137.60,257.87 L138.10,257.84 L138.60,257.80 L139.10,257.77 L139.60,257.73 L140.10,257.70 L140.60,257.67 L141.10,257.63 L141.60,257.60 L142.10,257.56 L142.60,257.53 L143.10,257.50 L143.60,257.46 L144.10,257.43 L144.60,257.39 L145.10,257.36 L145.60,257.32 L146.10,257.28 L146.60,257.25 L147.10,257.21 L147.60,257.18 L148.10,257.14 L148.60,257.10 L149.10,257.07 L149.60,257.03 L150.10,256.99 L150.60,256.95 L151.10,256.91 L151.60,256.88 L152.10,256.84 L152.60,256.80 L153.10,256.76 L153.60,256.72 L154.10,256.68 L154.60,256.65 L155.10,256.61 L155.60,256.57 L156.10,256.53 L156.60,256.49 L157.10,256.45 L157.60,256.41 L158.10,256.37 L158.60,256.32 L159.10,256.28 L159.60,256.24 L160.10,256.20 L160.60,256.15 L161.10,256.11 L161.60,256.06 L162.10,256.02 L162.60,255.97 L163.10,255.93 L163.60,255.88 L164.10,255.83 L164.60,255.78 L165.10,255.73 L165.60,255.68 L166.10,255.63 L166.60,255.58 L167.10,255.53 L167.60,255.48 L168.10,255.43 L168.60,255.37 L169.10,255.32 L169.60,255.26 L170.10,255.20 L170.60,255.14 L171.10,255.08 L171.60,255.02 L172.10,254.95 L172.60,254.88 L173.10,254.81 L173.60,254.74 L174.10,254.66 L174.60,254.58 L175.10,254.49 L175.60,254.40 L176.10,254.30 L176.60,254.20 L177.10,254.10 L177.60,253.98 L178.10,253.86 L178.60,253.74 L179.10,253.61 L179.60,253.47 L180.10,253.33 L180.60,253.19 L181.10,253.04 L181.60,252.88 L182.10,252.72 L182.60,252.56 L183.10,252.39 L183.60,252.22 L184.10,252.04 L184.60,251.86 L185.10,251.67 L185.60,251.47 L186.10,251.26 L186.60,251.04 L187.10,250.82 L187.60,250.58 L188.10,250.33 L188.60,250.06 L189.10,249.78 L189.60,249.49 L190.10,249.18 L190.60,248.86 L191.10,248.52 L191.60,248.16 L192.10,247.78 L192.60,247.39 L193.10,246.98 L193.60,246.55 L194.10,246.10 L194.60,245.63 L195.10,245.14 L195.60,244.63 L196.10,244.10 L196.60,243.54 L197.10,242.97 L197.60,242.37 L198.10,241.74 L198.60,241.09 L199.10,240.41 L199.60,239.70 L200.10,238.97 L200.60,238.21 L201.10,237.41 L201.60,236.59 L202.10,235.73 L202.60,234.84 L203.10,233.92 L203.60,232.96 L204.10,231.96 L204.60,230.93 L205.10,229.87 L205.60,228.76 L206.10,227.62 L206.60,226.45 L207.10,225.23 L207.60,223.98 L208.10,222.69 L208.60,221.37 L209.10,220.01 L209.60,218.61 L210.10,217.18 L210.60,215.72 L211.10,214.22 L211.60,212.68 L212.10,211.12 L212.60,209.51 L213.10,207.88 L213.60,206.21 L214.10,204.50 L214.60,202.77 L215.10,201.00 L215.60,199.19 L216.10,197.36 L216.60,195.49 L217.10,193.58 L217.60,191.64 L218.10,189.65 L218.60,187.61 L219.10,185.52 L219.60,183.38 L220.10,181.17 L220.60,178.90 L221.10,176.56 L221.60,174.16 L222.10,171.67 L222.60,169.12 L223.10,166.50 L223.60,163.81 L224.10,161.05 L224.60,158.24 L225.10,155.38 L225.60,152.49 L226.10,149.57 L226.60,146.64 L227.10,143.71 L227.60,140.79 L228.10,137.89 L228.60,135.03 L229.10,132.21 L229.60,129.44 L230.10,126.70 L230.60,124.02 L231.10,121.37 L231.60,118.76 L232.10,116.18 L232.60,113.61 L233.10,111.07 L233.60,108.54 L234.10,106.02 L234.60,103.52 L235.10,101.04 L235.60,98.59 L236.10,96.17 L236.60,93.79 L237.10,91.46 L237.60,89.19 L238.10,86.99 L238.60,84.85 L239.10,82.79 L239.60,80.81 L240.10,78.90 L240.60,77.08 L241.10,75.34 L241.60,73.68 L242.10,72.10 L242.60,70.59 L243.10,69.16 L243.60,67.81 L244.10,66.52 L244.60,65.30 L245.10,64.13 L245.60,63.03 L246.10,61.98 L246.60,60.99 L247.10,60.04 L247.60,59.14 L248.10,58.29 L248.60,57.49 L249.10,56.73 L249.60,56.01 L250.10,55.33 L250.60,54.70 L251.10,54.11 L251.60,53.56 L252.10,53.05 L252.60,52.57 L253.10,52.14 L253.60,51.73 L254.10,51.36 L254.60,51.02 L255.10,50.71 L255.60,50.43 L256.10,50.18 L256.60,49.96 L257.10,49.77 L257.60,49.59 L258.10,49.45 L258.60,49.32 L259.10,49.21 L259.60,49.13 L260.10,49.05 L260.60,49.00 L261.10,48.95 L261.60,48.92 L262.10,48.90 L262.60,48.89 L263.10,48.89 L263.60,48.89 L264.10,48.90 L264.60,48.92 L265.10,48.95 L265.60,48.99 L266.10,47.68 L266.60,49.98 L267.10,48.95 L267.60,49.94 L268.10,50.83 L268.60,49.43 L269.10,49.48 L269.60,49.16 L270.10,49.46 L270.60,49.80 L271.10,50.09 L271.60,50.32 L272.10,50.02 L272.60,49.81 L273.10,50.15 L273.60,50.89 L274.10,50.30 L274.60,50.66 L275.10,51.25 L275.60,50.45 L276.10,51.14 L276.60,51.60 L277.10,51.13 L277.60,51.40 L278.10,51.69 L278.60,51.42 L279.10,51.72 L279.60,51.95 L280.10,52.02 L280.60,52.03 L281.10,52.01 L281.60,52.26 L282.10,52.31 L282.60,52.47 L283.10,52.52 L283.60,52.86 L284.10,52.93 L284.60,52.81 L285.10,53.04 L285.60,53.00 L286.10,53.19 L286.60,53.24 L287.10,53.49 L287.60,53.44 L288.10,53.58 L288.60,53.80 L289.10,53.74 L289.60,54.08 L290.10,53.96 L290.60,54.04 L291.10,54.12 L291.60,54.20 L292.10,54.27 L292.60,54.35 L293.10,54.41 L293.60,54.48 L294.10,54.55 L294.60,54.61 L295.10,54.67 L295.60,54.73 L296.10,54.78 L296.60,54.84 L297.10,54.89 L297.60,54.95 L298.10,55.00 L298.60,55.05 L299.10,55.11 L299.60,55.16 L300.10,55.21 L300.60,55.26 L301.10,55.31 L301.60,55.37 L302.10,55.42 L302.60,55.47 L303.10,55.52 L303.60,55.57 L304.10,55.62 L304.60,55.67 L305.10,55.72 L305.60,55.77 L306.10,55.82 L306.60,55.87 L307.10,55.92 L307.60,55.97 L308.10,56.01 L308.60,56.06 L309.10,56.10 L309.60,56.15 L310.10,56.19 L310.60,56.24 L311.10,56.28 L311.60,56.32 L312.10,56.36 L312.60,56.40 L313.10,56.44 L313.60,56.48 L314.10,56.51 L314.60,56.55 L315.10,56.59 L315.60,56.62 L316.10,56.66 L316.60,56.69 L317.10,56.73 L317.60,56.76 L318.10,56.79 L318.60,56.83 L319.10,56.86 L319.60,56.89 L320.10,56.92 L320.60,56.95 L321.10,56.98 L321.60,57.01 L322.10,57.04 L322.60,57.07 L323.10,57.10 L323.60,57.12 L324.10,57.15 L324.60,57.17 L325.10,57.20 L325.60,57.22 L326.10,57.25 L326.60,57.27 L327.10,57.29 L327.60,57.31 L328.10,57.33 L328.60,57.35 L329.10,57.37 L329.60,57.39 L330.10,57.41 L330.60,57.43 L331.10,57.45 L331.60,57.47 L332.10,57.49 L332.60,57.51 L333.10,57.53 L333.60,57.55 L334.10,57.57 L334.60,57.59 L335.10,57.61 L335.60,57.63 L336.10,57.65 L336.60,57.67 L337.10,57.70 L337.60,57.72 L338.10,57.74 L338.60,57.76 L339.10,57.78 L339.60,57.80 L340.10,57.83 L340.60,57.85 L341.10,57.87 L341.60,57.89 L342.10,57.91 L342.60,57.93 L343.10,57.94 L343.60,57.96 L344.10,57.98 L344.60,57.99 L345.10,58.01 L345.60,58.02 L346.10,58.03 L346.60,58.04 L347.10,58.05 L347.60,58.06 L348.10,58.07 L348.60,58.08 L349.10,58.08 L349.60,58.08 L350.10,58.09 L350.60,58.09 L351.10,58.09 L351.60,58.09 L352.10,58.09 L352.60,58.09 L353.10,58.09 L353.60,58.08 L354.10,58.08 L354.60,58.08 L355.10,58.08 L355.60,58.07 L356.10,58.07 L356.60,58.06 L357.10,58.06 L357.60,58.05 L358.10,58.05 L358.60,58.04 L359.10,58.04 L359.60,58.03 L360.10,58.03 L360.60,58.02 L361.10,58.02 L361.60,58.01 L362.10,58.00 L362.60,58.00 L363.10,57.99 L363.60,57.98 L364.10,57.98 L364.60,57.97 L365.10,57.96 L365.60,57.96 L366.10,57.95 L366.60,57.94 L367.10,57.94 L367.60,57.93 L368.10,57.92 L368.60,57.92 L369.10,57.91 L369.60,57.91 L370.10,57.90 L370.60,57.89 L371.10,57.89 L371.60,57.88 L372.10,57.87 L372.60,57.86 L373.10,57.86 L373.60,57.85 L374.10,57.84 L374.60,57.84 L375.10,57.83 L375.60,57.82 L376.10,57.81 L376.60,57.81 L377.10,57.80 L377.60,57.79 L378.10,57.78 L378.60,57.78 L379.10,57.77 L379.60,57.76 L380.10,57.75 L380.60,57.74 L381.10,57.73 L381.60,57.73 L382.10,57.72 L382.60,57.71 L383.10,57.70 L383.60,57.69 L384.10,57.68 L384.60,57.68 L385.10,57.67 L385.60,57.66 L386.10,57.65 L386.60,57.64 L387.10,57.63 L387.60,57.62 L388.10,57.62 L388.60,57.61 L389.10,57.60 L389.60,57.59 L390.10,57.58 L390.60,57.57 L391.10,57.56 L391.60,57.56 L392.10,57.55 L392.60,57.54 L393.10,57.53 L393.60,57.52 L394.10,57.52 L394.60,57.51 L395.10,57.50 L395.60,57.49 L396.10,57.48 L396.60,57.47 L397.10,57.47 L397.60,57.46 L398.10,57.45 L398.60,57.44 L399.10,57.44 L399.60,57.43 L400.10,57.42 L400.60,57.41 L401.10,57.40 L401.60,57.40 L402.10,57.39 L402.60,57.38 L403.10,57.37 L403.60,57.37 L404.10,57.36 L404.60,57.35 L405.10,57.34 L405.60,57.33 L406.10,57.33 L406.60,57.32 L407.10,57.31 L407.60,57.30 L408.10,57.29 L408.60,57.29 L409.10,57.28 L409.60,57.27 L410.10,57.26 L410.60,57.26 L411.10,57.25 L411.60,57.24 L412.10,57.23 L412.60,57.22 L413.10,57.22 L413.60,57.21 L414.10,57.20 L414.60,57.19 L415.10,57.18 L415.60,57.17 L416.10,57.17 L416.60,57.16 L417.10,57.15 L417.60,57.14 L418.10,57.13 L418.60,57.12 L419.10,57.11 L419.60,57.11 L420.10,57.10 L420.60,57.09 L421.10,57.08 L421.60,57.07 L422.10,57.06 L422.60,57.05 L423.10,57.04 L423.60,57.03 L424.10,57.02 L424.60,57.01 L425.10,57.00 L425.60,56.99 L426.10,56.98 L426.60,56.97 L427.10,56.96 L427.60,56.95 L428.10,56.94 L428.60,56.93 L429.10,56.92 L429.60,56.91 L430.10,56.90 L430.60,56.89 L431.10,56.88 L431.60,56.87 L432.10,56.86 L432.60,56.85 L433.10,56.84 L433.60,56.83 L434.10,56.82 L434.60,56.81 L435.10,56.80 L435.60,56.79 L436.10,56.78 L436.60,56.77 L437.10,56.76 L437.60,56.75 L438.10,56.74 L438.60,56.73 L439.10,56.72 L439.60,56.71 L440.10,56.70 L440.60,56.69 L441.10,56.68 L441.60,56.67 L442.10,56.67 L442.60,56.66 L443.10,56.65 L443.60,56.64 L444.10,56.63 L444.60,56.62 L445.10,56.62 L445.60,56.61 L446.10,56.60 L446.60,56.59 L447.10,56.58 L447.60,56.58 L448.10,56.57 L448.60,56.56 L449.10,56.56 L449.60,56.55 L450.10,56.54 L450.60,56.53 L451.10,56.53 L451.60,56.52 L452.10,56.51 L452.60,56.51 L453.10,56.50 L453.60,56.49 L454.10,56.48 L454.60,56.48 L455.10,56.47 L455.60,56.46 L456.10,56.46 L456.60,56.45 L457.10,56.44 L457.60,56.44 L458.10,56.43 L458.60,56.42 L459.10,56.42 L459.60,56.41 L460.10,56.41 L460.60,56.40 L461.10,56.39 L461.60,56.39 L462.10,56.38 L462.60,56.37 L463.10,56.37 L463.60,56.36 L464.10,56.36 L464.60,56.35 L465.10,56.35 L465.60,56.34 L466.10,56.33 L466.60,56.33 L467.10,56.32 L467.60,56.32 L468.10,56.31 L468.60,56.31 L469.10,56.30 L469.60,56.30 L470.10,56.29 L470.60,56.28 L471.10,56.28 L471.60,56.27 L472.10,56.27 L472.60,56.26 L473.10,56.26 L473.60,56.26 L474.10,56.25 L474.60,56.25 L475.10,56.24 L475.60,56.24 L476.10,56.23 L476.60,56.23 L477.10,56.22 L477.60,56.22 L478.10,56.22 L478.60,56.21 L479.10,56.21 L479.60,56.20 L480.00,56.20" stroke="#000" stroke-width="2.6" stroke-linejoin="miter"/>
</g>
<g fill="none" stroke-linejoin="round" clip-path="url(#cb)">
<path d="M101.10,290.60 L101.60,290.63 L102.10,290.65 L102.60,290.68 L103.10,290.70 L103.60,290.73 L104.10,290.75 L104.60,290.78 L105.10,290.80 L105.60,290.83 L106.10,290.86 L106.60,290.88 L107.10,290.91 L107.60,290.93 L108.10,290.96 L108.60,290.98 L109.10,291.01 L109.60,291.03 L110.10,291.06 L110.60,291.08 L111.10,291.10 L111.60,291.13 L112.10,291.15 L112.60,291.18 L113.10,291.20 L113.60,291.23 L114.10,291.25 L114.60,291.27 L115.10,291.30 L115.60,291.32 L116.10,291.34 L116.60,291.37 L117.10,291.39 L117.60,291.41 L118.10,291.44 L118.60,291.46 L119.10,291.48 L119.60,291.51 L120.10,291.53 L120.60,291.55 L121.10,291.58 L121.60,291.60 L122.10,291.62 L122.60,291.64 L123.10,291.66 L123.60,291.69 L124.10,291.71 L124.60,291.73 L125.10,291.75 L125.60,291.77 L126.10,291.80 L126.60,291.82 L127.10,291.84 L127.60,291.86 L128.10,291.88 L128.60,291.90 L129.10,291.92 L129.60,291.94 L130.10,291.96 L130.60,291.99 L131.10,292.01 L131.60,292.03 L132.10,292.05 L132.60,292.07 L133.10,292.09 L133.60,292.11 L134.10,292.13 L134.60,292.15 L135.10,292.17 L135.60,292.19 L136.10,292.21 L136.60,292.23 L137.10,292.25 L137.60,292.27 L138.10,292.28 L138.60,292.30 L139.10,292.32 L139.60,292.34 L140.10,292.36 L140.60,292.38 L141.10,292.40 L141.60,292.42 L142.10,292.44 L142.60,292.46 L143.10,292.48 L143.60,292.50 L144.10,292.52 L144.60,292.54 L145.10,292.56 L145.60,292.58 L146.10,292.60 L146.60,292.62 L147.10,292.64 L147.60,292.65 L148.10,292.67 L148.60,292.69 L149.10,292.71 L149.60,292.73 L150.10,292.75 L150.60,292.77 L151.10,292.79 L151.60,292.81 L152.10,292.83 L152.60,292.84 L153.10,292.86 L153.60,292.88 L154.10,292.90 L154.60,292.91 L155.10,292.93 L155.60,292.95 L156.10,292.96 L156.60,292.98 L157.10,293.00 L157.60,293.01 L158.10,293.03 L158.60,293.04 L159.10,293.06 L159.60,293.08 L160.10,293.09 L160.60,293.11 L161.10,293.12 L161.60,293.14 L162.10,293.16 L162.60,293.17 L163.10,293.19 L163.60,293.21 L164.10,293.23 L164.60,293.25 L165.10,293.26 L165.60,293.28 L166.10,293.30 L166.60,293.32 L167.10,293.34 L167.60,293.36 L168.10,293.39 L168.60,293.41 L169.10,293.43 L169.60,293.46 L170.10,293.48 L170.60,293.51 L171.10,293.53 L171.60,293.56 L172.10,293.59 L172.60,293.62 L173.10,293.65 L173.60,293.68 L174.10,293.71 L174.60,293.75 L175.10,293.79 L175.60,293.83 L176.10,293.87 L176.60,293.92 L177.10,293.96 L177.60,294.02 L178.10,294.07 L178.60,294.13 L179.10,294.19 L179.60,294.25 L180.10,294.31 L180.60,294.38 L181.10,294.45 L181.60,294.52 L182.10,294.60 L182.60,294.68 L183.10,294.75 L183.60,294.83 L184.10,294.92 L184.60,295.00 L185.10,295.09 L185.60,295.17 L186.10,295.26 L186.60,295.35 L187.10,295.44 L187.60,295.54 L188.10,295.63 L188.60,295.73 L189.10,295.83 L189.60,295.93 L190.10,296.03 L190.60,296.14 L191.10,296.24 L191.60,296.35 L192.10,296.47 L192.60,296.59 L193.10,296.71 L193.60,296.83 L194.10,296.96 L194.60,297.09 L195.10,297.22 L195.60,297.36 L196.10,297.50 L196.60,297.65 L197.10,297.80 L197.60,297.96 L198.10,298.12 L198.60,298.29 L199.10,298.47 L199.60,298.65 L200.10,298.85 L200.60,299.05 L201.10,299.26 L201.60,299.48 L202.10,299.71 L202.60,299.96 L203.10,300.21 L203.60,300.49 L204.10,300.77 L204.60,301.07 L205.10,301.38 L205.60,301.71 L206.10,302.05 L206.60,302.41 L207.10,302.79 L207.60,303.18 L208.10,303.60 L208.60,304.03 L209.10,304.48 L209.60,304.96 L210.10,305.45 L210.60,305.97 L211.10,306.51 L211.60,307.07 L212.10,307.65 L212.60,308.25 L213.10,308.87 L213.60,309.51 L214.10,310.16 L214.60,310.83 L215.10,311.52 L215.60,312.23 L216.10,312.95 L216.60,313.70 L217.10,314.47 L217.60,315.26 L218.10,316.07 L218.60,316.91 L219.10,317.77 L219.60,318.66 L220.10,319.58 L220.60,320.53 L221.10,321.50 L221.60,322.50 L222.10,323.54 L222.60,324.59 L223.10,325.68 L223.60,326.78 L224.10,327.91 L224.60,329.06 L225.10,330.22 L225.60,331.40 L226.10,332.59 L226.60,333.80 L227.10,335.02 L227.60,336.25 L228.10,337.50 L228.60,338.76 L229.10,340.03 L229.60,341.31 L230.10,342.61 L230.60,343.91 L231.10,345.23 L231.60,346.56 L232.10,347.90 L232.60,349.24 L233.10,350.59 L233.60,351.93 L234.10,353.28 L234.60,354.62 L235.10,355.96 L235.60,357.28 L236.10,358.60 L236.60,359.90 L237.10,361.19 L237.60,362.47 L238.10,363.74 L238.60,364.99 L239.10,366.23 L239.60,367.45 L240.10,368.67 L240.60,369.87 L241.10,371.05 L241.60,372.23 L242.10,373.39 L242.60,374.54 L243.10,375.68 L243.60,376.80 L244.10,377.91 L244.60,379.01 L245.10,380.10 L245.60,381.18 L246.10,382.24 L246.60,383.29 L247.10,384.32 L247.60,385.35 L248.10,386.35 L248.60,387.35 L249.10,388.32 L249.60,389.28 L250.10,390.23 L250.60,391.16 L251.10,392.07 L251.60,392.96 L252.10,393.84 L252.60,394.70 L253.10,395.55 L253.60,396.38 L254.10,397.20 L254.60,398.00 L255.10,398.79 L255.60,399.57 L256.10,400.33 L256.60,401.08 L257.10,401.82 L257.60,402.55 L258.10,403.26 L258.60,403.95 L259.10,404.63 L259.60,405.29 L260.10,405.93 L260.60,406.54 L261.10,407.14 L261.60,407.71 L262.10,408.26 L262.60,408.78 L263.10,409.28 L263.60,409.76 L264.10,410.22 L264.60,410.66 L265.10,411.08 L265.60,411.49 L266.10,411.88 L266.60,412.25 L267.10,412.61 L267.60,412.97 L268.10,413.31 L268.60,413.64 L269.10,413.96 L269.60,414.27 L270.10,414.58 L270.60,414.87 L271.10,415.16 L271.60,415.45 L272.10,415.73 L272.60,416.00 L273.10,416.26 L273.60,416.52 L274.10,416.78 L274.60,417.02 L275.10,417.27 L275.60,417.50 L276.10,417.73 L276.60,417.96 L277.10,418.18 L277.60,418.39 L278.10,418.60 L278.60,418.80 L279.10,419.00 L279.60,419.19 L280.10,419.38 L280.60,419.56 L281.10,419.74 L281.60,419.91 L282.10,420.08 L282.60,420.25 L283.10,420.41 L283.60,420.57 L284.10,420.72 L284.60,420.88 L285.10,421.03 L285.60,421.17 L286.10,421.31 L286.60,421.45 L287.10,421.59 L287.60,421.72 L288.10,421.85 L288.60,421.98 L289.10,422.10 L289.60,422.23 L290.10,422.34 L290.60,422.46 L291.10,422.57 L291.60,422.68 L292.10,422.79 L292.60,422.89 L293.10,422.99 L293.60,423.09 L294.10,423.19 L294.60,423.28 L295.10,423.38 L295.60,423.47 L296.10,423.56 L296.60,423.64 L297.10,423.73 L297.60,423.81 L298.10,423.90 L298.60,423.98 L299.10,424.06 L299.60,424.14 L300.10,424.21 L300.60,424.29 L301.10,424.36 L301.60,424.43 L302.10,424.50 L302.60,424.57 L303.10,424.64 L303.60,424.71 L304.10,424.77 L304.60,424.84 L305.10,424.90 L305.60,424.96 L306.10,425.02 L306.60,425.08 L307.10,425.14 L307.60,425.20 L308.10,425.25 L308.60,425.31 L309.10,425.36 L309.60,425.41 L310.10,425.47 L310.60,425.52 L311.10,425.57 L311.60,425.62 L312.10,425.66 L312.60,425.71 L313.10,425.76 L313.60,425.81 L314.10,425.85 L314.60,425.90 L315.10,425.94 L315.60,425.98 L316.10,426.03 L316.60,426.07 L317.10,426.11 L317.60,426.15 L318.10,426.19 L318.60,426.23 L319.10,426.27 L319.60,426.31 L320.10,426.35 L320.60,426.39 L321.10,426.43 L321.60,426.47 L322.10,426.51 L322.60,426.55 L323.10,426.58 L323.60,426.62 L324.10,426.66 L324.60,426.70 L325.10,426.73 L325.60,426.77 L326.10,426.81 L326.60,426.85 L327.10,426.88 L327.60,426.92 L328.10,426.96 L328.60,427.00 L329.10,427.03 L329.60,427.07 L330.10,427.11 L330.60,427.15 L331.10,427.19 L331.60,427.22 L332.10,427.26 L332.60,427.30 L333.10,427.34 L333.60,427.38 L334.10,427.41 L334.60,427.45 L335.10,427.49 L335.60,427.53 L336.10,427.56 L336.60,427.60 L337.10,427.64 L337.60,427.67 L338.10,427.71 L338.60,427.74 L339.10,427.78 L339.60,427.81 L340.10,427.85 L340.60,427.88 L341.10,427.91 L341.60,427.95 L342.10,427.98 L342.60,428.01 L343.10,428.04 L343.60,428.07 L344.10,428.10 L344.60,428.13 L345.10,428.16 L345.60,428.19 L346.10,428.21 L346.60,428.24 L347.10,428.26 L347.60,428.29 L348.10,428.31 L348.60,428.33 L349.10,428.35 L349.60,428.38 L350.10,428.39 L350.60,428.41 L351.10,428.43 L351.60,428.45 L352.10,428.46 L352.60,428.48 L353.10,428.50 L353.60,428.51 L354.10,428.52 L354.60,428.54 L355.10,428.55 L355.60,428.56 L356.10,428.57 L356.60,428.59 L357.10,428.60 L357.60,428.61 L358.10,428.62 L358.60,428.63 L359.10,428.65 L359.60,428.66 L360.10,428.67 L360.60,428.68 L361.10,428.69 L361.60,428.70 L362.10,428.71 L362.60,428.72 L363.10,428.73 L363.60,428.74 L364.10,428.75 L364.60,428.76 L365.10,428.77 L365.60,428.78 L366.10,428.79 L366.60,428.80 L367.10,428.81 L367.60,428.82 L368.10,428.83 L368.60,428.84 L369.10,428.85 L369.60,428.86 L370.10,428.87 L370.60,428.88 L371.10,428.89 L371.60,428.89 L372.10,428.90 L372.60,428.91 L373.10,428.92 L373.60,428.93 L374.10,428.93 L374.60,428.94 L375.10,428.95 L375.60,428.96 L376.10,428.97 L376.60,428.97 L377.10,428.98 L377.60,428.99 L378.10,428.99 L378.60,429.00 L379.10,429.01 L379.60,429.02 L380.10,429.02 L380.60,429.03 L381.10,429.04 L381.60,429.04 L382.10,429.05 L382.60,429.05 L383.10,429.06 L383.60,429.07 L384.10,429.07 L384.60,429.08 L385.10,429.08 L385.60,429.09 L386.10,429.09 L386.60,429.10 L387.10,429.10 L387.60,429.11 L388.10,429.11 L388.60,429.12 L389.10,429.12 L389.60,429.13 L390.10,429.13 L390.60,429.14 L391.10,429.14 L391.60,429.15 L392.10,429.15 L392.60,429.15 L393.10,429.16 L393.60,429.16 L394.10,429.16 L394.60,429.17 L395.10,429.17 L395.60,429.17 L396.10,429.18 L396.60,429.18 L397.10,429.18 L397.60,429.19 L398.10,429.19 L398.60,429.19 L399.10,429.19 L399.60,429.20 L400.10,429.20 L400.60,429.20 L401.10,429.20 L401.60,429.21 L402.10,429.21 L402.60,429.21 L403.10,429.21 L403.60,429.22 L404.10,429.22 L404.60,429.22 L405.10,429.22 L405.60,429.22 L406.10,429.23 L406.60,429.23 L407.10,429.23 L407.60,429.23 L408.10,429.24 L408.60,429.24 L409.10,429.24 L409.60,429.24 L410.10,429.24 L410.60,429.25 L411.10,429.25 L411.60,429.25 L412.10,429.25 L412.60,429.25 L413.10,429.26 L413.60,429.26 L414.10,429.26 L414.60,429.26 L415.10,429.26 L415.60,429.27 L416.10,429.27 L416.60,429.27 L417.10,429.27 L417.60,429.27 L418.10,429.28 L418.60,429.28 L419.10,429.28 L419.60,429.28 L420.10,429.28 L420.60,429.28 L421.10,429.29 L421.60,429.29 L422.10,429.29 L422.60,429.29 L423.10,429.29 L423.60,429.30 L424.10,429.30 L424.60,429.30 L425.10,429.30 L425.60,429.30 L426.10,429.30 L426.60,429.31 L427.10,429.31 L427.60,429.31 L428.10,429.31 L428.60,429.31 L429.10,429.31 L429.60,429.32 L430.10,429.32 L430.60,429.32 L431.10,429.32 L431.60,429.32 L432.10,429.32 L432.60,429.32 L433.10,429.33 L433.60,429.33 L434.10,429.33 L434.60,429.33 L435.10,429.33 L435.60,429.33 L436.10,429.33 L436.60,429.34 L437.10,429.34 L437.60,429.34 L438.10,429.34 L438.60,429.34 L439.10,429.34 L439.60,429.34 L440.10,429.35 L440.60,429.35 L441.10,429.35 L441.60,429.35 L442.10,429.35 L442.60,429.35 L443.10,429.35 L443.60,429.35 L444.10,429.36 L444.60,429.36 L445.10,429.36 L445.60,429.36 L446.10,429.36 L446.60,429.36 L447.10,429.36 L447.60,429.36 L448.10,429.36 L448.60,429.37 L449.10,429.37 L449.60,429.37 L450.10,429.37 L450.60,429.37 L451.10,429.37 L451.60,429.37 L452.10,429.37 L452.60,429.37 L453.10,429.37 L453.60,429.38 L454.10,429.38 L454.60,429.38 L455.10,429.38 L455.60,429.38 L456.10,429.38 L456.60,429.38 L457.10,429.38 L457.60,429.38 L458.10,429.38 L458.60,429.38 L459.10,429.38 L459.60,429.39 L460.10,429.39 L460.60,429.39 L461.10,429.39 L461.60,429.39 L462.10,429.39 L462.60,429.39 L463.10,429.39 L463.60,429.39 L464.10,429.39 L464.60,429.39 L465.10,429.39 L465.60,429.39 L466.10,429.39 L466.60,429.39 L467.10,429.39 L467.60,429.39 L468.10,429.39 L468.60,429.40 L469.10,429.40 L469.60,429.40 L470.10,429.40 L470.60,429.40 L471.10,429.40 L471.60,429.40 L472.10,429.40 L472.60,429.40 L473.10,429.40 L473.60,429.40 L474.10,429.40 L474.60,429.40 L475.10,429.40 L475.60,429.40 L476.10,429.40 L476.60,429.40 L477.10,429.40 L477.60,429.40 L478.10,429.40 L478.60,429.40 L479.10,429.40 L479.60,429.40 L480.00,429.40" stroke="#000" stroke-width="2.6"/>
<path d="M101.10,541.75 L101.60,541.75 L102.10,541.75 L102.60,541.74 L103.10,541.74 L103.60,541.74 L104.10,541.74 L104.60,541.73 L105.10,541.73 L105.60,541.73 L106.10,541.73 L106.60,541.72 L107.10,541.72 L107.60,541.72 L108.10,541.71 L108.60,541.71 L109.10,541.71 L109.60,541.70 L110.10,541.70 L110.60,541.70 L111.10,541.69 L111.60,541.69 L112.10,541.69 L112.60,541.68 L113.10,541.68 L113.60,541.68 L114.10,541.67 L114.60,541.67 L115.10,541.66 L115.60,541.66 L116.10,541.65 L116.60,541.65 L117.10,541.65 L117.60,541.64 L118.10,541.64 L118.60,541.63 L119.10,541.63 L119.60,541.62 L120.10,541.62 L120.60,541.61 L121.10,541.61 L121.60,541.60 L122.10,541.60 L122.60,541.59 L123.10,541.59 L123.60,541.58 L124.10,541.58 L124.60,541.57 L125.10,541.57 L125.60,541.56 L126.10,541.56 L126.60,541.55 L127.10,541.54 L127.60,541.54 L128.10,541.53 L128.60,541.53 L129.10,541.52 L129.60,541.52 L130.10,541.51 L130.60,541.50 L131.10,541.50 L131.60,541.49 L132.10,541.49 L132.60,541.48 L133.10,541.47 L133.60,541.47 L134.10,541.46 L134.60,541.46 L135.10,541.45 L135.60,541.44 L136.10,541.44 L136.60,541.43 L137.10,541.42 L137.60,541.42 L138.10,541.41 L138.60,541.40 L139.10,541.40 L139.60,541.39 L140.10,541.39 L140.60,541.38 L141.10,541.37 L141.60,541.37 L142.10,541.36 L142.60,541.35 L143.10,541.34 L143.60,541.34 L144.10,541.33 L144.60,541.32 L145.10,541.32 L145.60,541.31 L146.10,541.30 L146.60,541.30 L147.10,541.29 L147.60,541.28 L148.10,541.28 L148.60,541.27 L149.10,541.26 L149.60,541.26 L150.10,541.25 L150.60,541.24 L151.10,541.23 L151.60,541.23 L152.10,541.22 L152.60,541.21 L153.10,541.21 L153.60,541.20 L154.10,541.19 L154.60,541.18 L155.10,541.18 L155.60,541.17 L156.10,541.16 L156.60,541.15 L157.10,541.15 L157.60,541.14 L158.10,541.13 L158.60,541.12 L159.10,541.11 L159.60,541.10 L160.10,541.10 L160.60,541.09 L161.10,541.08 L161.60,541.07 L162.10,541.06 L162.60,541.05 L163.10,541.04 L163.60,541.03 L164.10,541.02 L164.60,541.01 L165.10,541.00 L165.60,540.99 L166.10,540.98 L166.60,540.97 L167.10,540.96 L167.60,540.95 L168.10,540.94 L168.60,540.92 L169.10,540.91 L169.60,540.90 L170.10,540.89 L170.60,540.87 L171.10,540.86 L171.60,540.85 L172.10,540.83 L172.60,540.82 L173.10,540.80 L173.60,540.79 L174.10,540.77 L174.60,540.75 L175.10,540.74 L175.60,540.72 L176.10,540.70 L176.60,540.68 L177.10,540.66 L177.60,540.63 L178.10,540.61 L178.60,540.59 L179.10,540.56 L179.60,540.54 L180.10,540.51 L180.60,540.48 L181.10,540.45 L181.60,540.42 L182.10,540.39 L182.60,540.35 L183.10,540.32 L183.60,540.29 L184.10,540.25 L184.60,540.22 L185.10,540.18 L185.60,540.14 L186.10,540.10 L186.60,540.06 L187.10,540.02 L187.60,539.98 L188.10,539.94 L188.60,539.89 L189.10,539.85 L189.60,539.80 L190.10,539.75 L190.60,539.70 L191.10,539.65 L191.60,539.60 L192.10,539.54 L192.60,539.49 L193.10,539.43 L193.60,539.37 L194.10,539.30 L194.60,539.24 L195.10,539.17 L195.60,539.10 L196.10,539.03 L196.60,538.95 L197.10,538.87 L197.60,538.78 L198.10,538.69 L198.60,538.60 L199.10,538.50 L199.60,538.40 L200.10,538.29 L200.60,538.17 L201.10,538.04 L201.60,537.91 L202.10,537.77 L202.60,537.62 L203.10,537.46 L203.60,537.29 L204.10,537.12 L204.60,536.93 L205.10,536.74 L205.60,536.54 L206.10,536.34 L206.60,536.13 L207.10,535.91 L207.60,535.68 L208.10,535.45 L208.60,535.21 L209.10,534.96 L209.60,534.71 L210.10,534.45 L210.60,534.18 L211.10,533.90 L211.60,533.62 L212.10,533.32 L212.60,533.01 L213.10,532.69 L213.60,532.35 L214.10,532.00 L214.60,531.64 L215.10,531.26 L215.60,530.87 L216.10,530.46 L216.60,530.03 L217.10,529.57 L217.60,529.10 L218.10,528.61 L218.60,528.09 L219.10,527.55 L219.60,526.99 L220.10,526.41 L220.60,525.81 L221.10,525.19 L221.60,524.56 L222.10,523.91 L222.60,523.25 L223.10,522.57 L223.60,521.89 L224.10,521.20 L224.60,520.50 L225.10,519.79 L225.60,519.08 L226.10,518.36 L226.60,517.63 L227.10,516.90 L227.60,516.16 L228.10,515.42 L228.60,514.67 L229.10,513.92 L229.60,513.16 L230.10,512.40 L230.60,511.64 L231.10,510.88 L231.60,510.12 L232.10,509.35 L232.60,508.58 L233.10,507.82 L233.60,507.05 L234.10,506.29 L234.60,505.52 L235.10,504.76 L235.60,504.01 L236.10,503.25 L236.60,502.51 L237.10,501.77 L237.60,501.03 L238.10,500.31 L238.60,499.60 L239.10,498.90 L239.60,498.22 L240.10,497.54 L240.60,496.88 L241.10,496.23 L241.60,495.59 L242.10,494.96 L242.60,494.35 L243.10,493.74 L243.60,493.15 L244.10,492.56 L244.60,491.99 L245.10,491.42 L245.60,490.87 L246.10,490.32 L246.60,489.78 L247.10,489.25 L247.60,488.73 L248.10,488.22 L248.60,487.71 L249.10,487.22 L249.60,486.73 L250.10,486.25 L250.60,485.78 L251.10,485.32 L251.60,484.87 L252.10,484.44 L252.60,484.01 L253.10,483.60 L253.60,483.21 L254.10,482.83 L254.60,482.46 L255.10,482.10 L255.60,481.76 L256.10,481.43 L256.60,481.11 L257.10,480.80 L257.60,480.51 L258.10,480.22 L258.60,479.94 L259.10,479.67 L259.60,479.41 L260.10,479.15 L260.60,478.91 L261.10,478.67 L261.60,478.44 L262.10,478.22 L262.60,478.00 L263.10,477.80 L263.60,477.60 L264.10,477.41 L264.60,477.23 L265.10,477.05 L265.60,476.88 L266.10,476.72 L266.60,476.56 L267.10,476.41 L267.60,476.26 L268.10,476.12 L268.60,475.98 L269.10,475.85 L269.60,475.72 L270.10,475.59 L270.60,475.47 L271.10,475.35 L271.60,475.24 L272.10,475.12 L272.60,475.01 L273.10,474.91 L273.60,474.80 L274.10,474.70 L274.60,474.60 L275.10,474.50 L275.60,474.40 L276.10,474.31 L276.60,474.22 L277.10,474.12 L277.60,474.03 L278.10,473.94 L278.60,473.86 L279.10,473.77 L279.60,473.69 L280.10,473.60 L280.60,473.52 L281.10,473.44 L281.60,473.36 L282.10,473.28 L282.60,473.20 L283.10,473.13 L283.60,473.06 L284.10,472.98 L284.60,472.91 L285.10,472.85 L285.60,472.78 L286.10,472.72 L286.60,472.65 L287.10,472.59 L287.60,472.53 L288.10,472.47 L288.60,472.42 L289.10,472.36 L289.60,472.31 L290.10,472.26 L290.60,472.21 L291.10,472.16 L291.60,472.11 L292.10,472.06 L292.60,472.02 L293.10,471.97 L293.60,471.93 L294.10,471.88 L294.60,471.84 L295.10,471.80 L295.60,471.76 L296.10,471.72 L296.60,471.68 L297.10,471.64 L297.60,471.60 L298.10,471.57 L298.60,471.53 L299.10,471.49 L299.60,471.46 L300.10,471.42 L300.60,471.39 L301.10,471.36 L301.60,471.33 L302.10,471.30 L302.60,471.27 L303.10,471.24 L303.60,471.21 L304.10,471.18 L304.60,471.15 L305.10,471.13 L305.60,471.10 L306.10,471.07 L306.60,471.05 L307.10,471.03 L307.60,471.00 L308.10,470.98 L308.60,470.96 L309.10,470.93 L309.60,470.91 L310.10,470.89 L310.60,470.87 L311.10,470.85 L311.60,470.83 L312.10,470.81 L312.60,470.79 L313.10,470.77 L313.60,470.75 L314.10,470.73 L314.60,470.71 L315.10,470.69 L315.60,470.68 L316.10,470.66 L316.60,470.64 L317.10,470.62 L317.60,470.61 L318.10,470.59 L318.60,470.58 L319.10,470.56 L319.60,470.55 L320.10,470.53 L320.60,470.52 L321.10,470.51 L321.60,470.49 L322.10,470.48 L322.60,470.47 L323.10,470.46 L323.60,470.45 L324.10,470.44 L324.60,470.43 L325.10,470.42 L325.60,470.41 L326.10,470.40 L326.60,470.39 L327.10,470.39 L327.60,470.38 L328.10,470.37 L328.60,470.36 L329.10,470.36 L329.60,470.35 L330.10,470.34 L330.60,470.34 L331.10,470.33 L331.60,470.32 L332.10,470.32 L332.60,470.31 L333.10,470.30 L333.60,470.30 L334.10,470.29 L334.60,470.28 L335.10,470.28 L335.60,470.27 L336.10,470.27 L336.60,470.26 L337.10,470.25 L337.60,470.25 L338.10,470.24 L338.60,470.24 L339.10,470.23 L339.60,470.23 L340.10,470.22 L340.60,470.22 L341.10,470.21 L341.60,470.20 L342.10,470.20 L342.60,470.19 L343.10,470.19 L343.60,470.18 L344.10,470.18 L344.60,470.17 L345.10,470.17 L345.60,470.16 L346.10,470.16 L346.60,470.15 L347.10,470.15 L347.60,470.15 L348.10,470.14 L348.60,470.14 L349.10,470.13 L349.60,470.13 L350.10,470.12 L350.60,470.12 L351.10,470.11 L351.60,470.11 L352.10,470.11 L352.60,470.10 L353.10,470.10 L353.60,470.09 L354.10,470.09 L354.60,470.08 L355.10,470.08 L355.60,470.08 L356.10,470.07 L356.60,470.07 L357.10,470.06 L357.60,470.06 L358.10,470.06 L358.60,470.05 L359.10,470.05 L359.60,470.05 L360.10,470.04 L360.60,470.04 L361.10,470.03 L361.60,470.03 L362.10,470.03 L362.60,470.02 L363.10,470.02 L363.60,470.02 L364.10,470.01 L364.60,470.01 L365.10,470.01 L365.60,470.00 L366.10,470.00 L366.60,470.00 L367.10,469.99 L367.60,469.99 L368.10,469.99 L368.60,469.98 L369.10,469.98 L369.60,469.98 L370.10,469.97 L370.60,469.97 L371.10,469.97 L371.60,469.97 L372.10,469.96 L372.60,469.96 L373.10,469.96 L373.60,469.95 L374.10,469.95 L374.60,469.95 L375.10,469.94 L375.60,469.94 L376.10,469.94 L376.60,469.94 L377.10,469.93 L377.60,469.93 L378.10,469.93 L378.60,469.92 L379.10,469.92 L379.60,469.92 L380.10,469.92 L380.60,469.91 L381.10,469.91 L381.60,469.91 L382.10,469.90 L382.60,469.90 L383.10,469.90 L383.60,469.90 L384.10,469.89 L384.60,469.89 L385.10,469.89 L385.60,469.88 L386.10,469.88 L386.60,469.88 L387.10,469.88 L387.60,469.87 L388.10,469.87 L388.60,469.87 L389.10,469.86 L389.60,469.86 L390.10,469.86 L390.60,469.86 L391.10,469.85 L391.60,469.85 L392.10,469.85 L392.60,469.84 L393.10,469.84 L393.60,469.84 L394.10,469.84 L394.60,469.83 L395.10,469.83 L395.60,469.83 L396.10,469.82 L396.60,469.82 L397.10,469.82 L397.60,469.81 L398.10,469.81 L398.60,469.81 L399.10,469.81 L399.60,469.80 L400.10,469.80 L400.60,469.80 L401.10,469.79 L401.60,469.79 L402.10,469.79 L402.60,469.78 L403.10,469.78 L403.60,469.78 L404.10,469.77 L404.60,469.77 L405.10,469.77 L405.60,469.77 L406.10,469.76 L406.60,469.76 L407.10,469.76 L407.60,469.75 L408.10,469.75 L408.60,469.75 L409.10,469.74 L409.60,469.74 L410.10,469.74 L410.60,469.74 L411.10,469.73 L411.60,469.73 L412.10,469.73 L412.60,469.72 L413.10,469.72 L413.60,469.72 L414.10,469.71 L414.60,469.71 L415.10,469.71 L415.60,469.71 L416.10,469.70 L416.60,469.70 L417.10,469.70 L417.60,469.69 L418.10,469.69 L418.60,469.69 L419.10,469.69 L419.60,469.68 L420.10,469.68 L420.60,469.68 L421.10,469.67 L421.60,469.67 L422.10,469.67 L422.60,469.67 L423.10,469.66 L423.60,469.66 L424.10,469.66 L424.60,469.65 L425.10,469.65 L425.60,469.65 L426.10,469.65 L426.60,469.64 L427.10,469.64 L427.60,469.64 L428.10,469.64 L428.60,469.63 L429.10,469.63 L429.60,469.63 L430.10,469.62 L430.60,469.62 L431.10,469.62 L431.60,469.62 L432.10,469.61 L432.60,469.61 L433.10,469.61 L433.60,469.61 L434.10,469.60 L434.60,469.60 L435.10,469.60 L435.60,469.59 L436.10,469.59 L436.60,469.59 L437.10,469.59 L437.60,469.58 L438.10,469.58 L438.60,469.58 L439.10,469.58 L439.60,469.57 L440.10,469.57 L440.60,469.57 L441.10,469.57 L441.60,469.56 L442.10,469.56 L442.60,469.56 L443.10,469.56 L443.60,469.55 L444.10,469.55 L444.60,469.55 L445.10,469.55 L445.60,469.54 L446.10,469.54 L446.60,469.54 L447.10,469.54 L447.60,469.53 L448.10,469.53 L448.60,469.53 L449.10,469.53 L449.60,469.52 L450.10,469.52 L450.60,469.52 L451.10,469.52 L451.60,469.52 L452.10,469.51 L452.60,469.51 L453.10,469.51 L453.60,469.51 L454.10,469.50 L454.60,469.50 L455.10,469.50 L455.60,469.50 L456.10,469.49 L456.60,469.49 L457.10,469.49 L457.60,469.49 L458.10,469.49 L458.60,469.48 L459.10,469.48 L459.60,469.48 L460.10,469.48 L460.60,469.47 L461.10,469.47 L461.60,469.47 L462.10,469.47 L462.60,469.47 L463.10,469.46 L463.60,469.46 L464.10,469.46 L464.60,469.46 L465.10,469.46 L465.60,469.45 L466.10,469.45 L466.60,469.45 L467.10,469.45 L467.60,469.45 L468.10,469.44 L468.60,469.44 L469.10,469.44 L469.60,469.44 L470.10,469.44 L470.60,469.43 L471.10,469.43 L471.60,469.43 L472.10,469.43 L472.60,469.43 L473.10,469.42 L473.60,469.42 L474.10,469.42 L474.60,469.42 L475.10,469.42 L475.60,469.42 L476.10,469.41 L476.60,469.41 L477.10,469.41 L477.60,469.41 L478.10,469.41 L478.60,469.41 L479.10,469.40 L479.60,469.40 L480.00,469.40" stroke="#000" stroke-width="2.6" stroke-dasharray="5.3 2.3" stroke-dashoffset="6.85"/>
<path d="M101.10,290.60 L101.60,290.62 L102.10,290.65 L102.60,290.67 L103.10,290.70 L103.60,290.73 L104.10,290.76 L104.60,290.79 L105.10,290.82 L105.60,290.85 L106.10,290.89 L106.60,290.93 L107.10,290.97 L107.60,291.01 L108.10,291.05 L108.60,291.09 L109.10,291.14 L109.60,291.19 L110.10,291.23 L110.60,291.28 L111.10,291.33 L111.60,291.39 L112.10,291.44 L112.60,291.49 L113.10,291.55 L113.60,291.61 L114.10,291.66 L114.60,291.72 L115.10,291.79 L115.60,291.85 L116.10,291.92 L116.60,291.98 L117.10,292.06 L117.60,292.13 L118.10,292.20 L118.60,292.28 L119.10,292.37 L119.60,292.45 L120.10,292.54 L120.60,292.63 L121.10,292.72 L121.60,292.82 L122.10,292.91 L122.60,293.01 L123.10,293.12 L123.60,293.23 L124.10,293.34 L124.60,293.45 L125.10,293.57 L125.60,293.69 L126.10,293.81 L126.60,293.94 L127.10,294.08 L127.60,294.21 L128.10,294.36 L128.60,294.50 L129.10,294.65 L129.60,294.81 L130.10,294.97 L130.60,295.14 L131.10,295.31 L131.60,295.49 L132.10,295.67 L132.60,295.86 L133.10,296.05 L133.60,296.25 L134.10,296.46 L134.60,296.68 L135.10,296.90 L135.60,297.14 L136.10,297.38 L136.60,297.63 L137.10,297.89 L137.60,298.15 L138.10,298.43 L138.60,298.72 L139.10,299.01 L139.60,299.32 L140.10,299.63 L140.60,299.95 L141.10,300.28 L141.60,300.62 L142.10,300.96 L142.60,301.31 L143.10,301.67 L143.60,302.03 L144.10,302.40 L144.60,302.78 L145.10,303.16 L145.60,303.55 L146.10,303.95 L146.60,304.36 L147.10,304.78 L147.60,305.21 L148.10,305.65 L148.60,306.11 L149.10,306.58 L149.60,307.06 L150.10,307.56 L150.60,308.08 L151.10,308.61 L151.60,309.17 L152.10,309.75 L152.60,310.36 L153.10,310.99 L153.60,311.65 L154.10,312.33 L154.60,313.04 L155.10,313.78 L155.60,314.54 L156.10,315.33 L156.60,316.15 L157.10,316.98 L157.60,317.84 L158.10,318.72 L158.60,319.62 L159.10,320.54 L159.60,321.47 L160.10,322.43 L160.60,323.39 L161.10,324.38 L161.60,325.38 L162.10,326.40 L162.60,327.43 L163.10,328.47 L163.60,329.53 L164.10,330.61 L164.60,331.69 L165.10,332.79 L165.60,333.89 L166.10,335.01 L166.60,336.13 L167.10,337.26 L167.60,338.39 L168.10,339.52 L168.60,340.67 L169.10,341.81 L169.60,342.96 L170.10,344.12 L170.60,345.28 L171.10,346.44 L171.60,347.60 L172.10,348.77 L172.60,349.94 L173.10,351.12 L173.60,352.29 L174.10,353.47 L174.60,354.65 L175.10,355.82 L175.60,357.00 L176.10,358.18 L176.60,359.36 L177.10,360.54 L177.60,361.72 L178.10,362.90 L178.60,364.07 L179.10,365.24 L179.60,366.41 L180.10,367.57 L180.60,368.72 L181.10,369.86 L181.60,370.99 L182.10,372.11 L182.60,373.21 L183.10,374.31 L183.60,375.40 L184.10,376.47 L184.60,377.53 L185.10,378.58 L185.60,379.62 L186.10,380.64 L186.60,381.65 L187.10,382.65 L187.60,383.63 L188.10,384.60 L188.60,385.56 L189.10,386.50 L189.60,387.43 L190.10,388.34 L190.60,389.24 L191.10,390.12 L191.60,390.99 L192.10,391.85 L192.60,392.69 L193.10,393.52 L193.60,394.34 L194.10,395.15 L194.60,395.95 L195.10,396.73 L195.60,397.51 L196.10,398.28 L196.60,399.04 L197.10,399.80 L197.60,400.54 L198.10,401.28 L198.60,402.01 L199.10,402.74 L199.60,403.46 L200.10,404.17 L200.60,404.88 L201.10,405.58 L201.60,406.27 L202.10,406.96 L202.60,407.65 L203.10,408.33 L203.60,409.00 L204.10,409.66 L204.60,410.32 L205.10,410.97 L205.60,411.61 L206.10,412.25 L206.60,412.87 L207.10,413.49 L207.60,414.09 L208.10,414.69 L208.60,415.28 L209.10,415.86 L209.60,416.43 L210.10,416.99 L210.60,417.54 L211.10,418.08 L211.60,418.61 L212.10,419.13 L212.60,419.65 L213.10,420.15 L213.60,420.65 L214.10,421.15 L214.60,421.63 L215.10,422.11 L215.60,422.59 L216.10,423.05 L216.60,423.52 L217.10,423.98 L217.60,424.43 L218.10,424.88 L218.60,425.32 L219.10,425.77 L219.60,426.20 L220.10,426.63 L220.60,427.06 L221.10,427.48 L221.60,427.90 L222.10,428.32 L222.60,428.73 L223.10,429.14 L223.60,429.54 L224.10,429.94 L224.60,430.33 L225.10,430.73 L225.60,431.12 L226.10,431.50 L226.60,431.89 L227.10,432.27 L227.60,432.65 L228.10,433.03 L228.60,433.40 L229.10,433.77 L229.60,434.14 L230.10,434.51 L230.60,434.87 L231.10,435.24 L231.60,435.60 L232.10,435.95 L232.60,436.31 L233.10,436.66 L233.60,437.01 L234.10,437.36 L234.60,437.71 L235.10,438.05 L235.60,438.40 L236.10,438.74 L236.60,439.08 L237.10,439.42 L237.60,439.75 L238.10,440.09 L238.60,440.42 L239.10,440.75 L239.60,441.07 L240.10,441.39 L240.60,441.71 L241.10,442.02 L241.60,442.32 L242.10,442.62 L242.60,442.91 L243.10,443.19 L243.60,443.47 L244.10,443.74 L244.60,444.01 L245.10,444.26 L245.60,444.51 L246.10,444.76 L246.60,444.99 L247.10,445.22 L247.60,445.45 L248.10,445.67 L248.60,445.89 L249.10,446.10 L249.60,446.30 L250.10,446.50 L250.60,446.70 L251.10,446.89 L251.60,447.07 L252.10,447.25 L252.60,447.43 L253.10,447.60 L253.60,447.76 L254.10,447.92 L254.60,448.08 L255.10,448.23 L255.60,448.37 L256.10,448.52 L256.60,448.66 L257.10,448.79 L257.60,448.92 L258.10,449.05 L258.60,449.18 L259.10,449.30 L259.60,449.42 L260.10,449.53 L260.60,449.64 L261.10,449.75 L261.60,449.85 L262.10,449.95 L262.60,450.05 L263.10,450.14 L263.60,450.23 L264.10,450.32 L264.60,450.40 L265.10,450.48 L265.60,450.55 L266.10,450.62 L266.60,450.69 L267.10,450.76 L267.60,450.82 L268.10,450.89 L268.60,450.95 L269.10,451.01 L269.60,451.07 L270.10,451.12 L270.60,451.18 L271.10,451.23 L271.60,451.28 L272.10,451.33 L272.60,451.38 L273.10,451.43 L273.60,451.48 L274.10,451.53 L274.60,451.57 L275.10,451.61 L275.60,451.66 L276.10,451.70 L276.60,451.74 L277.10,451.78 L277.60,451.82 L278.10,451.86 L278.60,451.89 L279.10,451.93 L279.60,451.96 L280.10,452.00 L280.60,452.03 L281.10,452.07 L281.60,452.10 L282.10,452.13 L282.60,452.16 L283.10,452.20 L283.60,452.23 L284.10,452.26 L284.60,452.29 L285.10,452.32 L285.60,452.35 L286.10,452.37 L286.60,452.40 L287.10,452.43 L287.60,452.46 L288.10,452.49 L288.60,452.51 L289.10,452.54 L289.60,452.56 L290.10,452.59 L290.60,452.61 L291.10,452.64 L291.60,452.66 L292.10,452.68 L292.60,452.71 L293.10,452.73 L293.60,452.75 L294.10,452.77 L294.60,452.79 L295.10,452.82 L295.60,452.84 L296.10,452.86 L296.60,452.88 L297.10,452.89 L297.60,452.91 L298.10,452.93 L298.60,452.95 L299.10,452.97 L299.60,452.98 L300.10,453.00 L300.60,453.02 L301.10,453.03 L301.60,453.05 L302.10,453.07 L302.60,453.08 L303.10,453.10 L303.60,453.11 L304.10,453.13 L304.60,453.14 L305.10,453.16 L305.60,453.18 L306.10,453.19 L306.60,453.21 L307.10,453.22 L307.60,453.24 L308.10,453.25 L308.60,453.26 L309.10,453.28 L309.60,453.29 L310.10,453.31 L310.60,453.32 L311.10,453.33 L311.60,453.35 L312.10,453.36 L312.60,453.37 L313.10,453.39 L313.60,453.40 L314.10,453.41 L314.60,453.42 L315.10,453.43 L315.60,453.44 L316.10,453.46 L316.60,453.47 L317.10,453.48 L317.60,453.49 L318.10,453.50 L318.60,453.50 L319.10,453.51 L319.60,453.52 L320.10,453.53 L320.60,453.54 L321.10,453.55 L321.60,453.55 L322.10,453.56 L322.60,453.56 L323.10,453.57 L323.60,453.58 L324.10,453.58 L324.60,453.59 L325.10,453.59 L325.60,453.59 L326.10,453.60 L326.60,453.60 L327.10,453.60 L327.60,453.61 L328.10,453.61 L328.60,453.61 L329.10,453.62 L329.60,453.62 L330.10,453.62 L330.60,453.62 L331.10,453.63 L331.60,453.63 L332.10,453.63 L332.60,453.63 L333.10,453.64 L333.60,453.64 L334.10,453.64 L334.60,453.64 L335.10,453.65 L335.60,453.65 L336.10,453.65 L336.60,453.65 L337.10,453.65 L337.60,453.66 L338.10,453.66 L338.60,453.66 L339.10,453.66 L339.60,453.66 L340.10,453.67 L340.60,453.67 L341.10,453.67 L341.60,453.67 L342.10,453.67 L342.60,453.68 L343.10,453.68 L343.60,453.68 L344.10,453.68 L344.60,453.68 L345.10,453.68 L345.60,453.69 L346.10,453.69 L346.60,453.69 L347.10,453.69 L347.60,453.69 L348.10,453.69 L348.60,453.70 L349.10,453.70 L349.60,453.70 L350.10,453.70 L350.60,453.70 L351.10,453.70 L351.60,453.71 L352.10,453.71 L352.60,453.71 L353.10,453.71 L353.60,453.71 L354.10,453.71 L354.60,453.71 L355.10,453.72 L355.60,453.72 L356.10,453.72 L356.60,453.72 L357.10,453.72 L357.60,453.72 L358.10,453.72 L358.60,453.72 L359.10,453.73 L359.60,453.73 L360.10,453.73 L360.60,453.73 L361.10,453.73 L361.60,453.73 L362.10,453.73 L362.60,453.73 L363.10,453.74 L363.60,453.74 L364.10,453.74 L364.60,453.74 L365.10,453.74 L365.60,453.74 L366.10,453.74 L366.60,453.74 L367.10,453.74 L367.60,453.75 L368.10,453.75 L368.60,453.75 L369.10,453.75 L369.60,453.75 L370.10,453.75 L370.60,453.75 L371.10,453.75 L371.60,453.75 L372.10,453.75 L372.60,453.75 L373.10,453.76 L373.60,453.76 L374.10,453.76 L374.60,453.76 L375.10,453.76 L375.60,453.76 L376.10,453.76 L376.60,453.76 L377.10,453.76 L377.60,453.76 L378.10,453.76 L378.60,453.77 L379.10,453.77 L379.60,453.77 L380.10,453.77 L380.60,453.77 L381.10,453.77 L381.60,453.77 L382.10,453.77 L382.60,453.77 L383.10,453.77 L383.60,453.77 L384.10,453.77 L384.60,453.78 L385.10,453.78 L385.60,453.78 L386.10,453.78 L386.60,453.78 L387.10,453.78 L387.60,453.78 L388.10,453.78 L388.60,453.78 L389.10,453.78 L389.60,453.78 L390.10,453.78 L390.60,453.78 L391.10,453.79 L391.60,453.79 L392.10,453.79 L392.60,453.79 L393.10,453.79 L393.60,453.79 L394.10,453.79 L394.60,453.79 L395.10,453.79 L395.60,453.79 L396.10,453.79 L396.60,453.79 L397.10,453.80 L397.60,453.80 L398.10,453.80 L398.60,453.80 L399.10,453.80 L399.60,453.80 L400.10,453.80 L400.60,453.80 L401.10,453.80 L401.60,453.80 L402.10,453.80 L402.60,453.80 L403.10,453.81 L403.60,453.81 L404.10,453.81 L404.60,453.81 L405.10,453.81 L405.60,453.81 L406.10,453.81 L406.60,453.81 L407.10,453.81 L407.60,453.81 L408.10,453.81 L408.60,453.81 L409.10,453.82 L409.60,453.82 L410.10,453.82 L410.60,453.82 L411.10,453.82 L411.60,453.82 L412.10,453.82 L412.60,453.82 L413.10,453.82 L413.60,453.82 L414.10,453.82 L414.60,453.82 L415.10,453.83 L415.60,453.83 L416.10,453.83 L416.60,453.83 L417.10,453.83 L417.60,453.83 L418.10,453.83 L418.60,453.83 L419.10,453.83 L419.60,453.83 L420.10,453.83 L420.60,453.83 L421.10,453.83 L421.60,453.84 L422.10,453.84 L422.60,453.84 L423.10,453.84 L423.60,453.84 L424.10,453.84 L424.60,453.84 L425.10,453.84 L425.60,453.84 L426.10,453.84 L426.60,453.84 L427.10,453.84 L427.60,453.84 L428.10,453.85 L428.60,453.85 L429.10,453.85 L429.60,453.85 L430.10,453.85 L430.60,453.85 L431.10,453.85 L431.60,453.85 L432.10,453.85 L432.60,453.85 L433.10,453.85 L433.60,453.85 L434.10,453.85 L434.60,453.85 L435.10,453.86 L435.60,453.86 L436.10,453.86 L436.60,453.86 L437.10,453.86 L437.60,453.86 L438.10,453.86 L438.60,453.86 L439.10,453.86 L439.60,453.86 L440.10,453.86 L440.60,453.86 L441.10,453.86 L441.60,453.86 L442.10,453.86 L442.60,453.87 L443.10,453.87 L443.60,453.87 L444.10,453.87 L444.60,453.87 L445.10,453.87 L445.60,453.87 L446.10,453.87 L446.60,453.87 L447.10,453.87 L447.60,453.87 L448.10,453.87 L448.60,453.87 L449.10,453.87 L449.60,453.87 L450.10,453.87 L450.60,453.88 L451.10,453.88 L451.60,453.88 L452.10,453.88 L452.60,453.88 L453.10,453.88 L453.60,453.88 L454.10,453.88 L454.60,453.88 L455.10,453.88 L455.60,453.88 L456.10,453.88 L456.60,453.88 L457.10,453.88 L457.60,453.88 L458.10,453.88 L458.60,453.88 L459.10,453.88 L459.60,453.88 L460.10,453.89 L460.60,453.89 L461.10,453.89 L461.60,453.89 L462.10,453.89 L462.60,453.89 L463.10,453.89 L463.60,453.89 L464.10,453.89 L464.60,453.89 L465.10,453.89 L465.60,453.89 L466.10,453.89 L466.60,453.89 L467.10,453.89 L467.60,453.89 L468.10,453.89 L468.60,453.89 L469.10,453.89 L469.60,453.89 L470.10,453.89 L470.60,453.89 L471.10,453.89 L471.60,453.89 L472.10,453.90 L472.60,453.90 L473.10,453.90 L473.60,453.90 L474.10,453.90 L474.60,453.90 L475.10,453.90 L475.60,453.90 L476.10,453.90 L476.60,453.90 L477.10,453.90 L477.60,453.90 L478.10,453.90 L478.60,453.90 L479.10,453.90 L479.60,453.90 L480.00,453.90" stroke="#ff2a00" stroke-width="1.3"/>
<path d="M101.10,541.75 L101.60,541.74 L102.10,541.73 L102.60,541.72 L103.10,541.72 L103.60,541.70 L104.10,541.69 L104.60,541.68 L105.10,541.66 L105.60,541.65 L106.10,541.63 L106.60,541.61 L107.10,541.59 L107.60,541.56 L108.10,541.54 L108.60,541.51 L109.10,541.49 L109.60,541.46 L110.10,541.43 L110.60,541.39 L111.10,541.36 L111.60,541.32 L112.10,541.29 L112.60,541.25 L113.10,541.21 L113.60,541.17 L114.10,541.13 L114.60,541.09 L115.10,541.04 L115.60,541.00 L116.10,540.95 L116.60,540.90 L117.10,540.86 L117.60,540.81 L118.10,540.76 L118.60,540.71 L119.10,540.65 L119.60,540.60 L120.10,540.55 L120.60,540.49 L121.10,540.44 L121.60,540.38 L122.10,540.33 L122.60,540.27 L123.10,540.21 L123.60,540.15 L124.10,540.08 L124.60,540.01 L125.10,539.94 L125.60,539.87 L126.10,539.80 L126.60,539.72 L127.10,539.63 L127.60,539.54 L128.10,539.45 L128.60,539.35 L129.10,539.25 L129.60,539.14 L130.10,539.03 L130.60,538.91 L131.10,538.79 L131.60,538.67 L132.10,538.54 L132.60,538.41 L133.10,538.28 L133.60,538.14 L134.10,538.00 L134.60,537.85 L135.10,537.70 L135.60,537.55 L136.10,537.40 L136.60,537.24 L137.10,537.08 L137.60,536.91 L138.10,536.74 L138.60,536.56 L139.10,536.38 L139.60,536.20 L140.10,536.01 L140.60,535.81 L141.10,535.61 L141.60,535.40 L142.10,535.19 L142.60,534.97 L143.10,534.74 L143.60,534.52 L144.10,534.28 L144.60,534.04 L145.10,533.80 L145.60,533.55 L146.10,533.30 L146.60,533.04 L147.10,532.78 L147.60,532.52 L148.10,532.25 L148.60,531.97 L149.10,531.69 L149.60,531.41 L150.10,531.12 L150.60,530.82 L151.10,530.51 L151.60,530.20 L152.10,529.88 L152.60,529.55 L153.10,529.21 L153.60,528.86 L154.10,528.50 L154.60,528.13 L155.10,527.74 L155.60,527.34 L156.10,526.93 L156.60,526.50 L157.10,526.07 L157.60,525.61 L158.10,525.15 L158.60,524.67 L159.10,524.18 L159.60,523.68 L160.10,523.17 L160.60,522.65 L161.10,522.12 L161.60,521.59 L162.10,521.04 L162.60,520.49 L163.10,519.93 L163.60,519.36 L164.10,518.79 L164.60,518.21 L165.10,517.62 L165.60,517.03 L166.10,516.43 L166.60,515.83 L167.10,515.22 L167.60,514.60 L168.10,513.97 L168.60,513.35 L169.10,512.71 L169.60,512.07 L170.10,511.43 L170.60,510.78 L171.10,510.13 L171.60,509.48 L172.10,508.82 L172.60,508.17 L173.10,507.52 L173.60,506.87 L174.10,506.23 L174.60,505.59 L175.10,504.95 L175.60,504.33 L176.10,503.70 L176.60,503.08 L177.10,502.47 L177.60,501.87 L178.10,501.27 L178.60,500.67 L179.10,500.09 L179.60,499.51 L180.10,498.93 L180.60,498.37 L181.10,497.81 L181.60,497.25 L182.10,496.71 L182.60,496.17 L183.10,495.64 L183.60,495.11 L184.10,494.60 L184.60,494.09 L185.10,493.59 L185.60,493.10 L186.10,492.62 L186.60,492.15 L187.10,491.70 L187.60,491.25 L188.10,490.81 L188.60,490.38 L189.10,489.96 L189.60,489.54 L190.10,489.13 L190.60,488.73 L191.10,488.33 L191.60,487.94 L192.10,487.55 L192.60,487.15 L193.10,486.76 L193.60,486.37 L194.10,485.97 L194.60,485.57 L195.10,485.18 L195.60,484.78 L196.10,484.38 L196.60,483.97 L197.10,483.57 L197.60,483.17 L198.10,482.78 L198.60,482.38 L199.10,481.99 L199.60,481.60 L200.10,481.22 L200.60,480.84 L201.10,480.47 L201.60,480.10 L202.10,479.73 L202.60,479.37 L203.10,479.02 L203.60,478.67 L204.10,478.32 L204.60,477.98 L205.10,477.64 L205.60,477.31 L206.10,476.98 L206.60,476.66 L207.10,476.34 L207.60,476.02 L208.10,475.71 L208.60,475.40 L209.10,475.10 L209.60,474.80 L210.10,474.50 L210.60,474.20 L211.10,473.91 L211.60,473.62 L212.10,473.33 L212.60,473.04 L213.10,472.76 L213.60,472.48 L214.10,472.20 L214.60,471.92 L215.10,471.64 L215.60,471.36 L216.10,471.09 L216.60,470.82 L217.10,470.55 L217.60,470.28 L218.10,470.02 L218.60,469.75 L219.10,469.49 L219.60,469.24 L220.10,468.98 L220.60,468.73 L221.10,468.48 L221.60,468.24 L222.10,467.99 L222.60,467.75 L223.10,467.51 L223.60,467.27 L224.10,467.04 L224.60,466.81 L225.10,466.57 L225.60,466.35 L226.10,466.12 L226.60,465.89 L227.10,465.67 L227.60,465.45 L228.10,465.23 L228.60,465.01 L229.10,464.80 L229.60,464.58 L230.10,464.37 L230.60,464.16 L231.10,463.95 L231.60,463.74 L232.10,463.53 L232.60,463.32 L233.10,463.12 L233.60,462.92 L234.10,462.72 L234.60,462.52 L235.10,462.32 L235.60,462.13 L236.10,461.95 L236.60,461.77 L237.10,461.59 L237.60,461.42 L238.10,461.25 L238.60,461.09 L239.10,460.93 L239.60,460.78 L240.10,460.64 L240.60,460.49 L241.10,460.36 L241.60,460.22 L242.10,460.10 L242.60,459.97 L243.10,459.85 L243.60,459.73 L244.10,459.62 L244.60,459.51 L245.10,459.40 L245.60,459.30 L246.10,459.20 L246.60,459.10 L247.10,459.01 L247.60,458.92 L248.10,458.83 L248.60,458.75 L249.10,458.67 L249.60,458.59 L250.10,458.52 L250.60,458.45 L251.10,458.38 L251.60,458.31 L252.10,458.25 L252.60,458.18 L253.10,458.12 L253.60,458.06 L254.10,458.00 L254.60,457.95 L255.10,457.89 L255.60,457.84 L256.10,457.79 L256.60,457.74 L257.10,457.69 L257.60,457.65 L258.10,457.61 L258.60,457.57 L259.10,457.53 L259.60,457.49 L260.10,457.46 L260.60,457.42 L261.10,457.39 L261.60,457.37 L262.10,457.34 L262.60,457.32 L263.10,457.29 L263.60,457.27 L264.10,457.25 L264.60,457.23 L265.10,457.21 L265.60,457.19 L266.10,457.18 L266.60,457.16 L267.10,457.15 L267.60,457.13 L268.10,457.12 L268.60,457.10 L269.10,457.09 L269.60,457.07 L270.10,457.06 L270.60,457.05 L271.10,457.04 L271.60,457.02 L272.10,457.01 L272.60,457.00 L273.10,456.99 L273.60,456.98 L274.10,456.97 L274.60,456.96 L275.10,456.96 L275.60,456.95 L276.10,456.94 L276.60,456.94 L277.10,456.93 L277.60,456.92 L278.10,456.92 L278.60,456.91 L279.10,456.91 L279.60,456.91 L280.10,456.90 L280.60,456.90 L281.10,456.90 L281.60,456.89 L282.10,456.89 L282.60,456.89 L283.10,456.89 L283.60,456.88 L284.10,456.88 L284.60,456.88 L285.10,456.88 L285.60,456.88 L286.10,456.87 L286.60,456.87 L287.10,456.87 L287.60,456.87 L288.10,456.87 L288.60,456.87 L289.10,456.86 L289.60,456.86 L290.10,456.86 L290.60,456.86 L291.10,456.86 L291.60,456.86 L292.10,456.85 L292.60,456.85 L293.10,456.85 L293.60,456.85 L294.10,456.85 L294.60,456.85 L295.10,456.84 L295.60,456.84 L296.10,456.84 L296.60,456.84 L297.10,456.84 L297.60,456.84 L298.10,456.84 L298.60,456.83 L299.10,456.83 L299.60,456.83 L300.10,456.83 L300.60,456.83 L301.10,456.83 L301.60,456.83 L302.10,456.83 L302.60,456.83 L303.10,456.82 L303.60,456.82 L304.10,456.82 L304.60,456.82 L305.10,456.82 L305.60,456.82 L306.10,456.82 L306.60,456.82 L307.10,456.82 L307.60,456.82 L308.10,456.81 L308.60,456.81 L309.10,456.81 L309.60,456.81 L310.10,456.81 L310.60,456.81 L311.10,456.81 L311.60,456.81 L312.10,456.81 L312.60,456.81 L313.10,456.81 L313.60,456.81 L314.10,456.81 L314.60,456.81 L315.10,456.81 L315.60,456.81 L316.10,456.80 L316.60,456.80 L317.10,456.80 L317.60,456.80 L318.10,456.80 L318.60,456.80 L319.10,456.80 L319.60,456.80 L320.10,456.80 L320.60,456.80 L321.10,456.80 L321.60,456.80 L322.10,456.80 L322.60,456.80 L323.10,456.80 L323.60,456.80 L324.10,456.80 L324.60,456.80 L325.10,456.80 L325.60,456.80 L326.10,456.80 L326.60,456.80 L327.10,456.80 L327.60,456.80 L328.10,456.80 L328.60,456.80 L329.10,456.80 L329.60,456.80 L330.10,456.80 L330.60,456.80 L331.10,456.80 L331.60,456.80 L332.10,456.80 L332.60,456.80 L333.10,456.80 L333.60,456.80 L334.10,456.80 L334.60,456.80 L335.10,456.80 L335.60,456.80 L336.10,456.80 L336.60,456.80 L337.10,456.80 L337.60,456.80 L338.10,456.80 L338.60,456.80 L339.10,456.80 L339.60,456.80 L340.10,456.80 L340.60,456.80 L341.10,456.80 L341.60,456.80 L342.10,456.80 L342.60,456.80 L343.10,456.80 L343.60,456.80 L344.10,456.80 L344.60,456.80 L345.10,456.80 L345.60,456.80 L346.10,456.80 L346.60,456.80 L347.10,456.80 L347.60,456.80 L348.10,456.80 L348.60,456.80 L349.10,456.80 L349.60,456.80 L350.10,456.80 L350.60,456.80 L351.10,456.80 L351.60,456.80 L352.10,456.80 L352.60,456.80 L353.10,456.80 L353.60,456.80 L354.10,456.80 L354.60,456.80 L355.10,456.80 L355.60,456.80 L356.10,456.80 L356.60,456.80 L357.10,456.80 L357.60,456.80 L358.10,456.80 L358.60,456.80 L359.10,456.80 L359.60,456.80 L360.10,456.80 L360.60,456.80 L361.10,456.80 L361.60,456.80 L362.10,456.80 L362.60,456.80 L363.10,456.80 L363.60,456.80 L364.10,456.80 L364.60,456.80 L365.10,456.80 L365.60,456.80 L366.10,456.80 L366.60,456.80 L367.10,456.80 L367.60,456.80 L368.10,456.80 L368.60,456.80 L369.10,456.80 L369.60,456.80 L370.10,456.80 L370.60,456.80 L371.10,456.81 L371.60,456.81 L372.10,456.81 L372.60,456.81 L373.10,456.81 L373.60,456.81 L374.10,456.81 L374.60,456.81 L375.10,456.81 L375.60,456.81 L376.10,456.81 L376.60,456.81 L377.10,456.81 L377.60,456.81 L378.10,456.81 L378.60,456.81 L379.10,456.81 L379.60,456.81 L380.10,456.81 L380.60,456.81 L381.10,456.81 L381.60,456.81 L382.10,456.81 L382.60,456.81 L383.10,456.81 L383.60,456.81 L384.10,456.81 L384.60,456.81 L385.10,456.81 L385.60,456.81 L386.10,456.81 L386.60,456.81 L387.10,456.81 L387.60,456.81 L388.10,456.81 L388.60,456.81 L389.10,456.81 L389.60,456.81 L390.10,456.81 L390.60,456.81 L391.10,456.82 L391.60,456.82 L392.10,456.82 L392.60,456.82 L393.10,456.82 L393.60,456.82 L394.10,456.82 L394.60,456.82 L395.10,456.82 L395.60,456.82 L396.10,456.82 L396.60,456.82 L397.10,456.82 L397.60,456.82 L398.10,456.82 L398.60,456.82 L399.10,456.82 L399.60,456.82 L400.10,456.82 L400.60,456.82 L401.10,456.82 L401.60,456.82 L402.10,456.82 L402.60,456.82 L403.10,456.83 L403.60,456.83 L404.10,456.83 L404.60,456.83 L405.10,456.83 L405.60,456.83 L406.10,456.83 L406.60,456.83 L407.10,456.83 L407.60,456.83 L408.10,456.83 L408.60,456.83 L409.10,456.83 L409.60,456.83 L410.10,456.83 L410.60,456.83 L411.10,456.83 L411.60,456.83 L412.10,456.84 L412.60,456.84 L413.10,456.84 L413.60,456.84 L414.10,456.84 L414.60,456.84 L415.10,456.84 L415.60,456.84 L416.10,456.84 L416.60,456.84 L417.10,456.84 L417.60,456.84 L418.10,456.84 L418.60,456.84 L419.10,456.84 L419.60,456.85 L420.10,456.85 L420.60,456.85 L421.10,456.85 L421.60,456.85 L422.10,456.85 L422.60,456.85 L423.10,456.85 L423.60,456.85 L424.10,456.85 L424.60,456.85 L425.10,456.85 L425.60,456.85 L426.10,456.86 L426.60,456.86 L427.10,456.86 L427.60,456.86 L428.10,456.86 L428.60,456.86 L429.10,456.86 L429.60,456.86 L430.10,456.86 L430.60,456.86 L431.10,456.86 L431.60,456.86 L432.10,456.87 L432.60,456.87 L433.10,456.87 L433.60,456.87 L434.10,456.87 L434.60,456.87 L435.10,456.87 L435.60,456.87 L436.10,456.87 L436.60,456.87 L437.10,456.88 L437.60,456.88 L438.10,456.88 L438.60,456.88 L439.10,456.88 L439.60,456.88 L440.10,456.88 L440.60,456.88 L441.10,456.88 L441.60,456.88 L442.10,456.89 L442.60,456.89 L443.10,456.89 L443.60,456.89 L444.10,456.89 L444.60,456.89 L445.10,456.89 L445.60,456.89 L446.10,456.89 L446.60,456.90 L447.10,456.90 L447.60,456.90 L448.10,456.90 L448.60,456.90 L449.10,456.90 L449.60,456.90 L450.10,456.90 L450.60,456.91 L451.10,456.91 L451.60,456.91 L452.10,456.91 L452.60,456.91 L453.10,456.91 L453.60,456.91 L454.10,456.92 L454.60,456.92 L455.10,456.92 L455.60,456.92 L456.10,456.92 L456.60,456.92 L457.10,456.92 L457.60,456.92 L458.10,456.93 L458.60,456.93 L459.10,456.93 L459.60,456.93 L460.10,456.93 L460.60,456.93 L461.10,456.94 L461.60,456.94 L462.10,456.94 L462.60,456.94 L463.10,456.94 L463.60,456.94 L464.10,456.94 L464.60,456.95 L465.10,456.95 L465.60,456.95 L466.10,456.95 L466.60,456.95 L467.10,456.95 L467.60,456.96 L468.10,456.96 L468.60,456.96 L469.10,456.96 L469.60,456.96 L470.10,456.96 L470.60,456.97 L471.10,456.97 L471.60,456.97 L472.10,456.97 L472.60,456.97 L473.10,456.97 L473.60,456.98 L474.10,456.98 L474.60,456.98 L475.10,456.98 L475.60,456.98 L476.10,456.99 L476.60,456.99 L477.10,456.99 L477.60,456.99 L478.10,456.99 L478.60,456.99 L479.10,457.00 L479.60,457.00 L480.00,457.00" stroke="#ff2a00" stroke-width="1.3" stroke-dasharray="5.1 3.75" stroke-dashoffset="6.13"/>
</g>
<rect x="101.1" y="30.9" width="378.90" height="249.00" fill="none" stroke="#000" stroke-width="1.7"/>
<rect x="101.1" y="287.2" width="378.90" height="275.35" fill="none" stroke="#000" stroke-width="1.7"/>
<path d="M405.3,313.3 H455.9" stroke="#000" stroke-width="2.6" fill="none"/>
<path d="M405.3,339.8 H455.9" stroke="#ff2a00" stroke-width="1.3" fill="none"/>
<g font-family='"Liberation Sans", sans-serif' font-size="17.3" fill="#000" opacity="0.999">
<text x="90.1" y="266.85" text-anchor="end">1</text>
<text x="90.1" y="228.54" text-anchor="end">1.01</text>
<text x="90.1" y="190.23" text-anchor="end">1.02</text>
<text x="90.1" y="151.92" text-anchor="end">1.03</text>
<text x="90.1" y="113.62" text-anchor="end">1.04</text>
<text x="90.1" y="75.31" text-anchor="end">1.05</text>
<text x="90.1" y="37.00" text-anchor="end">1.06</text>
<text x="90.1" y="568.65" text-anchor="end">-1</text>
<text x="90.1" y="535.87" text-anchor="end">-0.75</text>
<text x="90.1" y="503.09" text-anchor="end">-0.5</text>
<text x="90.1" y="470.31" text-anchor="end">-0.25</text>
<text x="90.1" y="437.53" text-anchor="end">0</text>
<text x="90.1" y="404.75" text-anchor="end">0.25</text>
<text x="90.1" y="371.97" text-anchor="end">0.5</text>
<text x="90.1" y="339.19" text-anchor="end">0.75</text>
<text x="90.1" y="306.41" text-anchor="end">1</text>
<text x="101.10" y="586.4" text-anchor="middle">10</text>
<text x="231.19" y="586.4" text-anchor="middle">3</text>
<text x="349.91" y="586.4" text-anchor="middle">1</text>
<text x="480.00" y="586.4" text-anchor="middle">0.3</text>
<text x="255.5" y="611.8" font-size="18.0">T<tspan font-family='"Liberation Serif", serif' font-size="14.4" dy="5.1">γ</tspan><tspan dy="-5.1"> (MeV)</tspan></text>
<text transform="translate(20.9,201.1) rotate(-90)" font-size="18.0">Effective T<tspan font-family='"Liberation Serif", serif' font-size="14.4" dy="4.3">ν</tspan></text>
<text transform="translate(20.9,469.0) rotate(-90)" font-size="18.0">Effective <tspan font-family='"Liberation Serif", serif'>ξ</tspan><tspan font-family='"Liberation Serif", serif' font-size="14.4" dy="4.3">ν</tspan></text>
<text x="394.2" y="318.7" text-anchor="end" font-size="18.0"><tspan font-family='"Liberation Serif", serif'>θ</tspan><tspan font-size="14.4" dy="4.2">13</tspan><tspan dy="-4.2">=0</tspan></text>
<text x="394.2" y="346.7" text-anchor="end" font-size="18.0">sin<tspan font-size="14.4" dy="-9.3">2</tspan><tspan font-family='"Liberation Serif", serif' dy="9.3">θ</tspan><tspan font-size="14.4" dy="4.2">13</tspan><tspan dy="-4.2">=0.04</tspan></text>
</g>
</svg>
</body></html>
